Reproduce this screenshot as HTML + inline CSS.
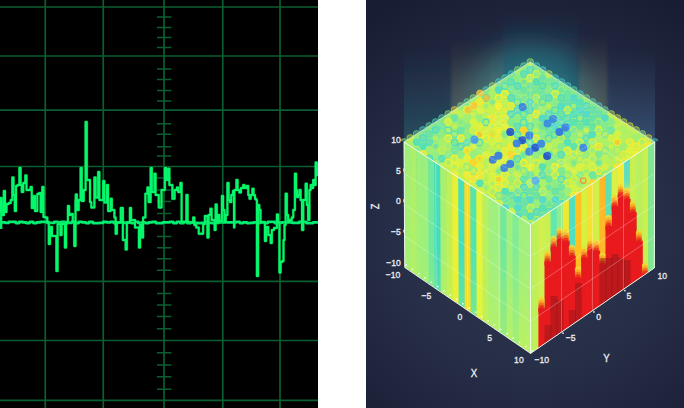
<!DOCTYPE html>
<html><head><meta charset="utf-8"><title>scope</title>
<style>html,body{margin:0;padding:0;background:#fff}body{width:684px;height:408px;position:relative;overflow:hidden;font-family:"Liberation Sans",sans-serif}</style>
</head><body>
<svg width="318" height="408" viewBox="0 0 318 408" style="position:absolute;left:0;top:0"><rect x="0" y="0" width="318" height="408" fill="#000"/><path d="M45.25 0V408M103.25 0V408M164 0V408M222.75 0V408M280 0V408M0 7H318M0 56H318M0 110.2H318M0 166.5H318M0 281.4H318M0 340.5H318M0 400.3H318M157 17H171.3M157 27.5H171.3M157 37.5H171.3M157 47.5H171.3M157 69H171.3M157 79.5H171.3M157 90.5H171.3M157 101H171.3M157 123.75H171.3M157 134.25H171.3M157 146.75H171.3M157 156H171.3M157 178H171.3M157 190H171.3M157 201.5H171.3M157 213.5H171.3M157 236.5H171.3M157 247.75H171.3M157 258.75H171.3M157 270.25H171.3M157 293.5H171.3M157 305H171.3M157 316.5H171.3M157 328.75H171.3M157 352.75H171.3M157 365H171.3M157 376.75H171.3M157 389.25H171.3" stroke="#0b5e32" stroke-width="1.7" fill="none"/><path d="M0 222.4H1.75V222.4H5.25V222.9H8.75V221.8H12.25V221.8H15.75V223.1H19.25V221.8H22.75V222.4H26.25V223.1H29.75V221.8H33.25V223.1H36.75V222.4H40.25V221.8H43.75V221.8H47.25V222.9H50.75V222.9H54.25V221.8H57.75V222.4H61.25V221.8H64.75V223.1H68.25V222.9H71.75V221.8H75.25V223.1H78.75V221.8H82.25V222.4H85.75V223.1H89.25V221.8H92.75V223.1H96.25V223.1H99.75V222.9H103.25V221.8H106.75V222.4H110.25V221.8H113.75V223.1H117.25V222.4H120.75V222.4H124.25V222.9H127.75V222.4H131.25V223.1H134.75V221.8H138.25V223.1H141.75V222.4H145.25V223.1H148.75V222.4H152.25V221.8H155.75V223.1H159.25V223.1H162.75V222.4H166.25V222.4H169.75V221.8H173.25V223.1H176.75V221.8H180.25V223.1H183.75V221.8H187.25V223.1H190.75V222.4H194.25V222.9H197.75V223.1H201.25V222.9H204.75V222.4H208.25V222.9H211.75V223.1H215.25V222.9H218.75V222.4H222.25V222.4H225.75V222.4H229.25V222.4H232.75V222.4H236.25V221.8H239.75V223.1H243.25V222.4H246.75V223.1H250.25V222.9H253.75V222.4H257.25V222.9H260.75V222.4H264.25V223.1H267.75V221.8H271.25V221.8H274.75V223.1H278.25V222.9H281.75V222.4H285.25V222.4H288.75V222.4H292.25V222.9H295.75V222.9H299.25V221.8H302.75V221.8H306.25V223.1H309.75V223.1H313.25V222.4H316.50V222.4H318M1 198V229M3.5 204V216" stroke="#02f072" stroke-width="2.7" fill="none" stroke-linejoin="round"/><path d="M0 212H0.40V198H1.60V215H3.80V191H5.00V212H6.50V204H8.75V203H10.75V200H12.30V177.5H13.50V195H14.80V211H16.05V186H17.50V185H19.40V168H20.60V185H21.75V192H23.25V183H25.30V175.5H26.50V190H28.00V190H30.60V187H31.80V208H33.80V196H35.00V211H37.25V194H39.00V193H40.65V212H42.30V187H43.50V217H45.25V217.5H47.25V222H48.80V244H50.00V227H52.00V236H54.00V236H56.40V271H57.60V224H60.40V235H61.60V224H64.90V247.5H66.10V222H67.90V206H69.10V215H71.00V214H72.75V222H74.25V246H75.50V200H75.75V194.5H76.90V210H78.75V200H80.60V168H81.80V201H83.75V190H85.60V122H86.80V180H88.50V180H90.00V202H91.25V207.5H94.40V177.5H95.60V197.5H98.15V172H99.35V200H103.15V181H104.35V202.5H106.90V185H108.10V211H110.65V198.75H111.85V210H114.38V217.5H115.65V233.75H116.85V222.5H120.75V208H122.88V240H125.65V249.5H126.85V222.5H129.90V208H131.10V220H135.00V227.5H138.90V247.5H140.10V225H141.90V237.5H143.10V217.5H145.38V193.75H147.40V187.5H148.60V202H150.65V168H151.85V192H154.40V173.75H155.60V195H158.75V207.5H161.50V190H164.90V168H166.10V180H168.15V168.75H169.35V185H172.38V198.75H174.62V190H176.90V187.5H178.10V192H180.40V183H181.60V222H184.00V222H186.40V195H187.60V222H189.25V222.5H193.15V217.5H194.35V225H196.25V227.5H198.75V233.75H201.25V233.75H203.12V224H204.88V216H207.40V237.5H208.60V215H210.40V208.75H211.60V220H214.62V230H215.60V204.5H216.80V222H218.15V215H219.35V221H221.90V196H223.10V210H224.50V222H225.75V215H227.40V183H228.60V200H230.00V202H231.25V195H232.90V191H234.03V227.5H234.38V190H236.40V180H237.60V190H239.25V192.5H241.00V188H243.15V185H244.35V188H246.50V186H248.25V195H249.50V198.75H250.75V195H252.40V188.75H253.60V195H255.00V199H256.25V200H256.90V276H258.10V205H259.25V210H260.50V222H262.00V222H264.90V241H266.10V227H268.25V235H270.65V243H271.85V230H274.00V228H276.90V214.5H278.10V222H279.40V272.5H280.60V262H282.25V261H283.50V240H284.50V225H285.65V193.75H286.85V215H288.12V222H289.88V220H291.75V217.5H293.25V210H294.90V173.75H296.10V190H297.00V197H298.25V195H299.40V190H300.60V200H302.00V230H303.25V200H305.65V183.75H306.85V205H308.12V220H309.38V190H310.65V185H311.85V188H313.15V180H314.35V185H315.65V162.5H316.85V175H317.75V170H318" stroke="#00c040" stroke-width="2.8" fill="none" stroke-linejoin="round" stroke-linecap="round" stroke-opacity="0.55"/><path d="M0 212H0.40V198H1.60V215H3.80V191H5.00V212H6.50V204H8.75V203H10.75V200H12.30V177.5H13.50V195H14.80V211H16.05V186H17.50V185H19.40V168H20.60V185H21.75V192H23.25V183H25.30V175.5H26.50V190H28.00V190H30.60V187H31.80V208H33.80V196H35.00V211H37.25V194H39.00V193H40.65V212H42.30V187H43.50V217H45.25V217.5H47.25V222H48.80V244H50.00V227H52.00V236H54.00V236H56.40V271H57.60V224H60.40V235H61.60V224H64.90V247.5H66.10V222H67.90V206H69.10V215H71.00V214H72.75V222H74.25V246H75.50V200H75.75V194.5H76.90V210H78.75V200H80.60V168H81.80V201H83.75V190H85.60V122H86.80V180H88.50V180H90.00V202H91.25V207.5H94.40V177.5H95.60V197.5H98.15V172H99.35V200H103.15V181H104.35V202.5H106.90V185H108.10V211H110.65V198.75H111.85V210H114.38V217.5H115.65V233.75H116.85V222.5H120.75V208H122.88V240H125.65V249.5H126.85V222.5H129.90V208H131.10V220H135.00V227.5H138.90V247.5H140.10V225H141.90V237.5H143.10V217.5H145.38V193.75H147.40V187.5H148.60V202H150.65V168H151.85V192H154.40V173.75H155.60V195H158.75V207.5H161.50V190H164.90V168H166.10V180H168.15V168.75H169.35V185H172.38V198.75H174.62V190H176.90V187.5H178.10V192H180.40V183H181.60V222H184.00V222H186.40V195H187.60V222H189.25V222.5H193.15V217.5H194.35V225H196.25V227.5H198.75V233.75H201.25V233.75H203.12V224H204.88V216H207.40V237.5H208.60V215H210.40V208.75H211.60V220H214.62V230H215.60V204.5H216.80V222H218.15V215H219.35V221H221.90V196H223.10V210H224.50V222H225.75V215H227.40V183H228.60V200H230.00V202H231.25V195H232.90V191H234.03V227.5H234.38V190H236.40V180H237.60V190H239.25V192.5H241.00V188H243.15V185H244.35V188H246.50V186H248.25V195H249.50V198.75H250.75V195H252.40V188.75H253.60V195H255.00V199H256.25V200H256.90V276H258.10V205H259.25V210H260.50V222H262.00V222H264.90V241H266.10V227H268.25V235H270.65V243H271.85V230H274.00V228H276.90V214.5H278.10V222H279.40V272.5H280.60V262H282.25V261H283.50V240H284.50V225H285.65V193.75H286.85V215H288.12V222H289.88V220H291.75V217.5H293.25V210H294.90V173.75H296.10V190H297.00V197H298.25V195H299.40V190H300.60V200H302.00V230H303.25V200H305.65V183.75H306.85V205H308.12V220H309.38V190H310.65V185H311.85V188H313.15V180H314.35V185H315.65V162.5H316.85V175H317.75V170H318" stroke="#06f66c" stroke-width="2" fill="none" stroke-linejoin="round" stroke-linecap="round"/></svg>
<svg width="318" height="408" viewBox="0 0 318 408" style="position:absolute;left:366px;top:0"><defs>
<radialGradient id="bg" gradientUnits="userSpaceOnUse" cx="165" cy="235" r="270"><stop offset="0" stop-color="#2f3853"/><stop offset="0.5" stop-color="#272e47"/><stop offset="1" stop-color="#181d33"/></radialGradient>
<linearGradient id="gt" x1="0" y1="1" x2="0" y2="0"><stop offset="0" stop-color="#2a8a8c" stop-opacity="0.58"/><stop offset="0.5" stop-color="#268088" stop-opacity="0.26"/><stop offset="1" stop-color="#237080" stop-opacity="0"/></linearGradient>
<linearGradient id="gy" x1="0" y1="1" x2="0" y2="0"><stop offset="0" stop-color="#b0ac80" stop-opacity="0.55"/><stop offset="0.6" stop-color="#a09c70" stop-opacity="0.26"/><stop offset="1" stop-color="#908860" stop-opacity="0"/></linearGradient>
<linearGradient id="gb" x1="0" y1="1" x2="0" y2="0"><stop offset="0" stop-color="#4878a8" stop-opacity="0.58"/><stop offset="0.6" stop-color="#406890" stop-opacity="0.24"/><stop offset="1" stop-color="#406088" stop-opacity="0"/></linearGradient>
<linearGradient id="lt" x1="0" y1="0" x2="0" y2="1"><stop offset="0" stop-color="#70e8a0" stop-opacity="0.12"/><stop offset="0.5" stop-color="#c8f050" stop-opacity="0"/><stop offset="1" stop-color="#d8f440" stop-opacity="0.45"/></linearGradient><linearGradient id="ct" x1="0" y1="0" x2="0" y2="1"><stop offset="0" stop-color="#54dcc8" stop-opacity="0.95"/><stop offset="0.7" stop-color="#54dcc8" stop-opacity="0.8"/><stop offset="1" stop-color="#54dcc8" stop-opacity="0"/></linearGradient><filter id="bl" x="-10%" y="-10%" width="120%" height="120%"><feGaussianBlur stdDeviation="1.6 3"/></filter>
<filter id="bl2" x="-60%" y="-60%" width="220%" height="220%"><feGaussianBlur stdDeviation="14"/></filter>
</defs><rect width="318" height="408" fill="url(#bg)"/><clipPath id="gc"><rect x="38" y="0" width="251" height="170"/></clipPath><g clip-path="url(#gc)"><ellipse cx="164" cy="100" rx="60" ry="55" fill="#2a8a98" fill-opacity="0.6" filter="url(#bl2)"/><g filter="url(#bl)"><rect x="34" y="48" width="52" height="112" fill="url(#gt)" opacity="0.8"/><rect x="85.5" y="40" width="40" height="120" fill="url(#gy)" opacity="0.95"/><rect x="85.5" y="60" width="40" height="100" fill="url(#gt)" opacity="0.45"/><rect x="125" y="38" width="12" height="122" fill="url(#gy)" opacity="1"/><rect x="137" y="12" width="75" height="148" fill="url(#gt)" opacity="1"/><rect x="137" y="40" width="66" height="120" fill="url(#gt)" opacity="0.6"/><rect x="213" y="36" width="28" height="124" fill="url(#gy)" opacity="1"/><rect x="213" y="60" width="28" height="100" fill="url(#gt)" opacity="0.3"/><rect x="241" y="50" width="55" height="110" fill="url(#gb)"/></g></g><polygon points="38.00,142.00 44.72,145.93 45.44,271.59 38.75,267.50" fill="#a4f074"/><polygon points="44.02,145.93 50.75,149.86 51.44,275.68 44.74,271.59" fill="#b0f068"/><polygon points="50.05,149.86 56.77,153.79 57.43,279.77 50.74,275.68" fill="#a0f078"/><polygon points="56.07,153.79 62.80,157.71 63.42,283.86 56.73,279.77" fill="#9cf07c"/><polygon points="62.10,157.71 68.82,161.64 69.41,287.95 62.72,283.86" fill="#70e8a0"/><polygon points="68.12,161.64 74.84,165.57 75.41,292.04 68.71,287.95" fill="#40dcc0"/><polygon points="74.14,165.57 80.87,169.50 81.40,296.13 74.71,292.04" fill="#a8f070"/><polygon points="80.17,169.50 86.89,173.43 87.39,300.22 80.70,296.13" fill="#c0f058"/><polygon points="86.19,173.43 92.91,177.36 93.39,304.31 86.69,300.22" fill="#f0f030"/><polygon points="92.21,177.36 98.94,181.29 99.38,308.40 92.69,304.31" fill="#40e0c0"/><polygon points="98.24,181.29 104.96,185.21 105.37,312.50 98.68,308.40" fill="#ffd820"/><polygon points="104.26,185.21 110.99,189.14 111.36,316.59 104.67,312.50" fill="#50e4b0"/><polygon points="110.29,189.14 117.01,193.07 117.36,320.68 110.66,316.59" fill="#e8f438"/><polygon points="116.31,193.07 123.03,197.00 123.35,324.77 116.66,320.68" fill="#b8f060"/><polygon points="122.33,197.00 129.06,200.93 129.34,328.86 122.65,324.77" fill="#a0f080"/><polygon points="128.36,200.93 135.08,204.86 135.34,332.95 128.64,328.86" fill="#a0f080"/><polygon points="134.38,204.86 141.10,208.79 141.33,337.04 134.64,332.95" fill="#70e8a0"/><polygon points="140.40,208.79 147.13,212.71 147.32,341.13 140.63,337.04" fill="#a0f080"/><polygon points="146.43,212.71 153.15,216.64 153.31,345.22 146.62,341.13" fill="#80ec98"/><polygon points="152.45,216.64 159.18,220.57 159.31,349.31 152.61,345.22" fill="#a0f080"/><polygon points="158.48,220.57 165.20,224.50 165.30,353.40 158.61,349.31" fill="#a4f07c"/><polygon points="38,142 164.5,224.5 164.60000000000002,353.4 38.75,267.5" fill="url(#lt)"/><polygon points="164.50,224.50 167.00,222.84 167.00,351.74 164.50,353.47" fill="#a8f070"/><polygon points="166.30,223.30 173.10,218.79 173.10,347.53 166.30,352.23" fill="#c0f058"/><polygon points="172.40,219.25 179.20,214.74 179.20,343.32 172.40,348.02" fill="#d0f050"/><polygon points="178.50,215.20 185.30,210.69 185.30,339.11 178.50,343.80" fill="#c8f050"/><polygon points="184.60,211.15 191.40,206.64 191.40,334.90 184.60,339.59" fill="#60e8b0"/><polygon points="190.70,207.10 197.50,202.59 197.50,330.69 190.70,335.38" fill="#90ec90"/><polygon points="196.80,203.05 203.60,198.54 203.60,326.48 196.80,331.17" fill="#f0e830"/><polygon points="202.90,199.00 209.70,194.49 209.70,322.26 202.90,326.96" fill="#50e0c0"/><polygon points="209.00,194.95 215.80,190.44 215.80,318.05 209.00,322.75" fill="#ffc020"/><polygon points="215.10,190.90 221.90,186.39 221.90,313.84 215.10,318.54" fill="#d8f040"/><polygon points="221.20,186.85 228.00,182.34 228.00,309.63 221.20,314.32" fill="#f8e030"/><polygon points="227.30,182.80 234.10,178.29 234.10,305.42 227.30,310.11" fill="#d0f048"/><polygon points="233.40,178.75 240.20,174.24 240.20,301.21 233.40,305.90" fill="#ffb828"/><polygon points="239.50,174.70 246.30,170.19 246.30,297.00 239.50,301.69" fill="#60e0b0"/><polygon points="245.60,170.65 252.40,166.14 252.40,292.78 245.60,297.48" fill="#d8f048"/><polygon points="251.70,166.60 258.50,162.09 258.50,288.57 251.70,293.27" fill="#f0ec38"/><polygon points="257.80,162.55 264.60,158.04 264.60,284.36 257.80,289.06" fill="#a0ec80"/><polygon points="257.80,162.55 264.60,158.04 264.60,186.04 257.80,190.55" fill="url(#ct)"/><polygon points="263.90,158.50 270.70,153.98 270.70,280.15 263.90,284.85" fill="#c8f050"/><polygon points="270.00,154.45 276.80,149.93 276.80,275.94 270.00,280.63" fill="#b8f060"/><polygon points="276.10,150.40 282.90,145.88 282.90,271.73 276.10,276.42" fill="#c8f050"/><polygon points="282.20,146.35 288.75,142.00 288.75,267.69 282.20,272.21" fill="#80e890"/><clipPath id="rc"><polygon points="164.5,224.5 288.75,142 288.29999999999995,268 164.60000000000002,353.4"/></clipPath><g clip-path="url(#rc)"><polygon points="172.40,308.00 179.20,308.00 179.20,343.32 172.40,348.02" fill="#e81a1e"/><polygon points="178.50,261.60 185.30,261.60 185.30,339.11 178.50,343.80" fill="#e81a1e"/><polygon points="184.60,246.70 191.40,246.70 191.40,334.90 184.60,339.59" fill="#e81a1e"/><polygon points="190.70,238.80 197.50,238.80 197.50,330.69 190.70,335.38" fill="#e81a1e"/><polygon points="196.80,240.80 203.60,240.80 203.60,326.48 196.80,331.17" fill="#e81a1e"/><polygon points="202.90,255.70 209.70,255.70 209.70,322.26 202.90,326.96" fill="#e81a1e"/><polygon points="209.00,277.50 215.80,277.50 215.80,318.05 209.00,322.75" fill="#e81a1e"/><polygon points="215.10,257.70 221.90,257.70 221.90,313.84 215.10,318.54" fill="#e81a1e"/><polygon points="221.20,249.70 228.00,249.70 228.00,309.63 221.20,314.32" fill="#e81a1e"/><polygon points="227.30,250.70 234.10,250.70 234.10,305.42 227.30,310.11" fill="#e81a1e"/><polygon points="233.40,263.60 240.20,263.60 240.20,301.21 233.40,305.90" fill="#e81a1e"/><polygon points="239.50,225.90 246.30,225.90 246.30,297.00 239.50,301.69" fill="#e81a1e"/><polygon points="245.60,206.00 252.40,206.00 252.40,292.78 245.60,297.48" fill="#e81a1e"/><polygon points="251.70,195.00 258.50,195.00 258.50,288.57 251.70,293.27" fill="#e81a1e"/><polygon points="257.80,198.70 264.60,198.70 264.60,284.36 257.80,289.06" fill="#e81a1e"/><polygon points="263.90,212.00 270.70,212.00 270.70,280.15 263.90,284.85" fill="#e81a1e"/><polygon points="270.00,240.80 276.80,240.80 276.80,275.94 270.00,280.63" fill="#e81a1e"/><polygon points="276.10,273.60 282.90,273.60 282.90,271.73 276.10,276.42" fill="#e81a1e"/><circle cx="175.4" cy="300.0" r="2.8" fill="#f4d838" fill-opacity="0.9" stroke="#f4d838" stroke-width="0.6"/><circle cx="175.4" cy="302.6" r="2.8" fill="#f8b028" fill-opacity="0.95" stroke="#f8b028" stroke-width="0.6"/><circle cx="175.4" cy="305.2" r="2.8" fill="#f47820" fill-opacity="1" stroke="#f47820" stroke-width="0.6"/><circle cx="175.4" cy="307.8" r="2.8" fill="#ec3c1c" fill-opacity="1" stroke="#ec3c1c" stroke-width="0.6"/><circle cx="175.4" cy="310.4" r="2.8" fill="#e81a1e" fill-opacity="1" stroke="#e81a1e" stroke-width="0.6"/><circle cx="181.5" cy="253.6" r="2.8" fill="#f4d838" fill-opacity="0.9" stroke="#f4d838" stroke-width="0.6"/><circle cx="181.5" cy="256.2" r="2.8" fill="#f8b028" fill-opacity="0.95" stroke="#f8b028" stroke-width="0.6"/><circle cx="181.5" cy="258.8" r="2.8" fill="#f47820" fill-opacity="1" stroke="#f47820" stroke-width="0.6"/><circle cx="181.5" cy="261.4" r="2.8" fill="#ec3c1c" fill-opacity="1" stroke="#ec3c1c" stroke-width="0.6"/><circle cx="181.5" cy="264.0" r="2.8" fill="#e81a1e" fill-opacity="1" stroke="#e81a1e" stroke-width="0.6"/><polygon points="178.50,325.00 185.30,325.00 185.30,339.11 178.50,343.80" fill="#5a1418" fill-opacity="0.3"/><circle cx="187.6" cy="238.7" r="2.8" fill="#f4d838" fill-opacity="0.9" stroke="#f4d838" stroke-width="0.6"/><circle cx="187.6" cy="241.3" r="2.8" fill="#f8b028" fill-opacity="0.95" stroke="#f8b028" stroke-width="0.6"/><circle cx="187.6" cy="243.9" r="2.8" fill="#f47820" fill-opacity="1" stroke="#f47820" stroke-width="0.6"/><circle cx="187.6" cy="246.5" r="2.8" fill="#ec3c1c" fill-opacity="1" stroke="#ec3c1c" stroke-width="0.6"/><circle cx="187.6" cy="249.1" r="2.8" fill="#e81a1e" fill-opacity="1" stroke="#e81a1e" stroke-width="0.6"/><polygon points="184.60,296.00 191.40,296.00 191.40,334.90 184.60,339.59" fill="#5a1418" fill-opacity="0.3"/><circle cx="193.7" cy="230.8" r="2.8" fill="#f4d838" fill-opacity="0.9" stroke="#f4d838" stroke-width="0.6"/><circle cx="193.7" cy="233.4" r="2.8" fill="#f8b028" fill-opacity="0.95" stroke="#f8b028" stroke-width="0.6"/><circle cx="193.7" cy="236.0" r="2.8" fill="#f47820" fill-opacity="1" stroke="#f47820" stroke-width="0.6"/><circle cx="193.7" cy="238.6" r="2.8" fill="#ec3c1c" fill-opacity="1" stroke="#ec3c1c" stroke-width="0.6"/><circle cx="193.7" cy="241.2" r="2.8" fill="#e81a1e" fill-opacity="1" stroke="#e81a1e" stroke-width="0.6"/><polygon points="190.70,300.00 197.50,300.00 197.50,330.69 190.70,335.38" fill="#5a1418" fill-opacity="0.3"/><circle cx="199.8" cy="232.8" r="2.8" fill="#f4d838" fill-opacity="0.9" stroke="#f4d838" stroke-width="0.6"/><circle cx="199.8" cy="235.4" r="2.8" fill="#f8b028" fill-opacity="0.95" stroke="#f8b028" stroke-width="0.6"/><circle cx="199.8" cy="238.0" r="2.8" fill="#f47820" fill-opacity="1" stroke="#f47820" stroke-width="0.6"/><circle cx="199.8" cy="240.6" r="2.8" fill="#ec3c1c" fill-opacity="1" stroke="#ec3c1c" stroke-width="0.6"/><circle cx="199.8" cy="243.2" r="2.8" fill="#e81a1e" fill-opacity="1" stroke="#e81a1e" stroke-width="0.6"/><circle cx="205.9" cy="247.7" r="2.8" fill="#f4d838" fill-opacity="0.9" stroke="#f4d838" stroke-width="0.6"/><circle cx="205.9" cy="250.3" r="2.8" fill="#f8b028" fill-opacity="0.95" stroke="#f8b028" stroke-width="0.6"/><circle cx="205.9" cy="252.9" r="2.8" fill="#f47820" fill-opacity="1" stroke="#f47820" stroke-width="0.6"/><circle cx="205.9" cy="255.5" r="2.8" fill="#ec3c1c" fill-opacity="1" stroke="#ec3c1c" stroke-width="0.6"/><circle cx="205.9" cy="258.1" r="2.8" fill="#e81a1e" fill-opacity="1" stroke="#e81a1e" stroke-width="0.6"/><polygon points="202.90,310.00 209.70,310.00 209.70,322.26 202.90,326.96" fill="#5a1418" fill-opacity="0.3"/><circle cx="212.0" cy="269.5" r="2.8" fill="#f4d838" fill-opacity="0.9" stroke="#f4d838" stroke-width="0.6"/><circle cx="212.0" cy="272.1" r="2.8" fill="#f8b028" fill-opacity="0.95" stroke="#f8b028" stroke-width="0.6"/><circle cx="212.0" cy="274.7" r="2.8" fill="#f47820" fill-opacity="1" stroke="#f47820" stroke-width="0.6"/><circle cx="212.0" cy="277.3" r="2.8" fill="#ec3c1c" fill-opacity="1" stroke="#ec3c1c" stroke-width="0.6"/><circle cx="212.0" cy="279.9" r="2.8" fill="#e81a1e" fill-opacity="1" stroke="#e81a1e" stroke-width="0.6"/><polygon points="209.00,283.00 215.80,283.00 215.80,318.05 209.00,322.75" fill="#5a1418" fill-opacity="0.3"/><circle cx="218.1" cy="249.7" r="2.8" fill="#f4d838" fill-opacity="0.9" stroke="#f4d838" stroke-width="0.6"/><circle cx="218.1" cy="252.3" r="2.8" fill="#f8b028" fill-opacity="0.95" stroke="#f8b028" stroke-width="0.6"/><circle cx="218.1" cy="254.9" r="2.8" fill="#f47820" fill-opacity="1" stroke="#f47820" stroke-width="0.6"/><circle cx="218.1" cy="257.5" r="2.8" fill="#ec3c1c" fill-opacity="1" stroke="#ec3c1c" stroke-width="0.6"/><circle cx="218.1" cy="260.1" r="2.8" fill="#e81a1e" fill-opacity="1" stroke="#e81a1e" stroke-width="0.6"/><circle cx="224.2" cy="241.7" r="2.8" fill="#f4d838" fill-opacity="0.9" stroke="#f4d838" stroke-width="0.6"/><circle cx="224.2" cy="244.3" r="2.8" fill="#f8b028" fill-opacity="0.95" stroke="#f8b028" stroke-width="0.6"/><circle cx="224.2" cy="246.9" r="2.8" fill="#f47820" fill-opacity="1" stroke="#f47820" stroke-width="0.6"/><circle cx="224.2" cy="249.5" r="2.8" fill="#ec3c1c" fill-opacity="1" stroke="#ec3c1c" stroke-width="0.6"/><circle cx="224.2" cy="252.1" r="2.8" fill="#e81a1e" fill-opacity="1" stroke="#e81a1e" stroke-width="0.6"/><circle cx="230.3" cy="242.7" r="2.8" fill="#f4d838" fill-opacity="0.9" stroke="#f4d838" stroke-width="0.6"/><circle cx="230.3" cy="245.3" r="2.8" fill="#f8b028" fill-opacity="0.95" stroke="#f8b028" stroke-width="0.6"/><circle cx="230.3" cy="247.9" r="2.8" fill="#f47820" fill-opacity="1" stroke="#f47820" stroke-width="0.6"/><circle cx="230.3" cy="250.5" r="2.8" fill="#ec3c1c" fill-opacity="1" stroke="#ec3c1c" stroke-width="0.6"/><circle cx="230.3" cy="253.1" r="2.8" fill="#e81a1e" fill-opacity="1" stroke="#e81a1e" stroke-width="0.6"/><circle cx="236.4" cy="255.6" r="2.8" fill="#f4d838" fill-opacity="0.9" stroke="#f4d838" stroke-width="0.6"/><circle cx="236.4" cy="258.2" r="2.8" fill="#f8b028" fill-opacity="0.95" stroke="#f8b028" stroke-width="0.6"/><circle cx="236.4" cy="260.8" r="2.8" fill="#f47820" fill-opacity="1" stroke="#f47820" stroke-width="0.6"/><circle cx="236.4" cy="263.4" r="2.8" fill="#ec3c1c" fill-opacity="1" stroke="#ec3c1c" stroke-width="0.6"/><circle cx="236.4" cy="266.0" r="2.8" fill="#e81a1e" fill-opacity="1" stroke="#e81a1e" stroke-width="0.6"/><polygon points="233.40,258.00 240.20,258.00 240.20,301.21 233.40,305.90" fill="#5a1418" fill-opacity="0.3"/><circle cx="242.5" cy="217.9" r="2.8" fill="#f4d838" fill-opacity="0.9" stroke="#f4d838" stroke-width="0.6"/><circle cx="242.5" cy="220.5" r="2.8" fill="#f8b028" fill-opacity="0.95" stroke="#f8b028" stroke-width="0.6"/><circle cx="242.5" cy="223.1" r="2.8" fill="#f47820" fill-opacity="1" stroke="#f47820" stroke-width="0.6"/><circle cx="242.5" cy="225.7" r="2.8" fill="#ec3c1c" fill-opacity="1" stroke="#ec3c1c" stroke-width="0.6"/><circle cx="242.5" cy="228.3" r="2.8" fill="#e81a1e" fill-opacity="1" stroke="#e81a1e" stroke-width="0.6"/><polygon points="239.50,258.00 246.30,258.00 246.30,297.00 239.50,301.69" fill="#5a1418" fill-opacity="0.3"/><circle cx="248.6" cy="198.0" r="2.8" fill="#f4d838" fill-opacity="0.9" stroke="#f4d838" stroke-width="0.6"/><circle cx="248.6" cy="200.6" r="2.8" fill="#f8b028" fill-opacity="0.95" stroke="#f8b028" stroke-width="0.6"/><circle cx="248.6" cy="203.2" r="2.8" fill="#f47820" fill-opacity="1" stroke="#f47820" stroke-width="0.6"/><circle cx="248.6" cy="205.8" r="2.8" fill="#ec3c1c" fill-opacity="1" stroke="#ec3c1c" stroke-width="0.6"/><circle cx="248.6" cy="208.4" r="2.8" fill="#e81a1e" fill-opacity="1" stroke="#e81a1e" stroke-width="0.6"/><polygon points="245.60,254.00 252.40,254.00 252.40,292.78 245.60,297.48" fill="#5a1418" fill-opacity="0.3"/><circle cx="254.7" cy="187.0" r="2.8" fill="#f4d838" fill-opacity="0.9" stroke="#f4d838" stroke-width="0.6"/><circle cx="254.7" cy="189.6" r="2.8" fill="#f8b028" fill-opacity="0.95" stroke="#f8b028" stroke-width="0.6"/><circle cx="254.7" cy="192.2" r="2.8" fill="#f47820" fill-opacity="1" stroke="#f47820" stroke-width="0.6"/><circle cx="254.7" cy="194.8" r="2.8" fill="#ec3c1c" fill-opacity="1" stroke="#ec3c1c" stroke-width="0.6"/><circle cx="254.7" cy="197.4" r="2.8" fill="#e81a1e" fill-opacity="1" stroke="#e81a1e" stroke-width="0.6"/><polygon points="251.70,258.00 258.50,258.00 258.50,288.57 251.70,293.27" fill="#5a1418" fill-opacity="0.3"/><circle cx="260.8" cy="190.7" r="2.8" fill="#f4d838" fill-opacity="0.9" stroke="#f4d838" stroke-width="0.6"/><circle cx="260.8" cy="193.3" r="2.8" fill="#f8b028" fill-opacity="0.95" stroke="#f8b028" stroke-width="0.6"/><circle cx="260.8" cy="195.9" r="2.8" fill="#f47820" fill-opacity="1" stroke="#f47820" stroke-width="0.6"/><circle cx="260.8" cy="198.5" r="2.8" fill="#ec3c1c" fill-opacity="1" stroke="#ec3c1c" stroke-width="0.6"/><circle cx="260.8" cy="201.1" r="2.8" fill="#e81a1e" fill-opacity="1" stroke="#e81a1e" stroke-width="0.6"/><polygon points="257.80,260.00 264.60,260.00 264.60,284.36 257.80,289.06" fill="#5a1418" fill-opacity="0.3"/><circle cx="266.9" cy="204.0" r="2.8" fill="#f4d838" fill-opacity="0.9" stroke="#f4d838" stroke-width="0.6"/><circle cx="266.9" cy="206.6" r="2.8" fill="#f8b028" fill-opacity="0.95" stroke="#f8b028" stroke-width="0.6"/><circle cx="266.9" cy="209.2" r="2.8" fill="#f47820" fill-opacity="1" stroke="#f47820" stroke-width="0.6"/><circle cx="266.9" cy="211.8" r="2.8" fill="#ec3c1c" fill-opacity="1" stroke="#ec3c1c" stroke-width="0.6"/><circle cx="266.9" cy="214.4" r="2.8" fill="#e81a1e" fill-opacity="1" stroke="#e81a1e" stroke-width="0.6"/><circle cx="273.0" cy="232.8" r="2.8" fill="#f4d838" fill-opacity="0.9" stroke="#f4d838" stroke-width="0.6"/><circle cx="273.0" cy="235.4" r="2.8" fill="#f8b028" fill-opacity="0.95" stroke="#f8b028" stroke-width="0.6"/><circle cx="273.0" cy="238.0" r="2.8" fill="#f47820" fill-opacity="1" stroke="#f47820" stroke-width="0.6"/><circle cx="273.0" cy="240.6" r="2.8" fill="#ec3c1c" fill-opacity="1" stroke="#ec3c1c" stroke-width="0.6"/><circle cx="273.0" cy="243.2" r="2.8" fill="#e81a1e" fill-opacity="1" stroke="#e81a1e" stroke-width="0.6"/><circle cx="279.1" cy="265.6" r="2.8" fill="#f4d838" fill-opacity="0.9" stroke="#f4d838" stroke-width="0.6"/><circle cx="279.1" cy="268.2" r="2.8" fill="#f8b028" fill-opacity="0.95" stroke="#f8b028" stroke-width="0.6"/><circle cx="279.1" cy="270.8" r="2.8" fill="#f47820" fill-opacity="1" stroke="#f47820" stroke-width="0.6"/><circle cx="279.1" cy="273.4" r="2.8" fill="#ec3c1c" fill-opacity="1" stroke="#ec3c1c" stroke-width="0.6"/><circle cx="279.1" cy="276.0" r="2.8" fill="#e81a1e" fill-opacity="1" stroke="#e81a1e" stroke-width="0.6"/></g><path d="M38.2 173.4L164.5 256.7L288.6 173.5M69.6 162.6L70.2 289.0M195.6 203.9L195.5 332.0M38.4 204.8L164.6 288.9L288.5 205.0M101.2 183.2L101.7 310.4M226.6 183.2L226.4 310.7M38.6 236.1L164.6 321.2L288.4 236.5M132.9 203.9L133.1 331.9M257.7 162.6L257.4 289.4" stroke="#fff" stroke-opacity="0.4" stroke-width="0.7" fill="none"/><clipPath id="tc"><polygon points="38,142 164.5,224.5 288.75,142 296.75,139 164.25,53 30,139"/></clipPath><polygon points="38,142 164.5,224.5 288.75,142 164.25,62" fill="#b4ee68"/><g clip-path="url(#tc)"><circle cx="164.2" cy="62.0" r="3.4" fill="#abf069" fill-opacity="0.4" stroke="#abf069" stroke-opacity="0.6" stroke-width="0.9"/><circle cx="157.9" cy="66.0" r="3.4" fill="#76e798" fill-opacity="0.4" stroke="#76e798" stroke-opacity="0.6" stroke-width="0.9"/><circle cx="170.5" cy="66.0" r="3.4" fill="#52dcc1" fill-opacity="0.4" stroke="#52dcc1" stroke-opacity="0.6" stroke-width="0.9"/><circle cx="151.6" cy="70.0" r="3.4" fill="#96ee7e" fill-opacity="0.4" stroke="#96ee7e" stroke-opacity="0.6" stroke-width="0.9"/><circle cx="176.7" cy="70.0" r="3.4" fill="#52dcc1" fill-opacity="0.4" stroke="#52dcc1" stroke-opacity="0.6" stroke-width="0.9"/><circle cx="164.2" cy="70.0" r="3.3" fill="#50d9cd" fill-opacity="0.7" stroke="#52ddbf" stroke-width="1.4"/><circle cx="145.3" cy="74.0" r="3.4" fill="#50d9cd" fill-opacity="0.4" stroke="#50d9cd" stroke-opacity="0.6" stroke-width="0.9"/><circle cx="182.9" cy="74.0" r="3.4" fill="#c4f150" fill-opacity="0.4" stroke="#c4f150" stroke-opacity="0.6" stroke-width="0.9"/><circle cx="157.9" cy="74.0" r="3.3" fill="#50d9cd" fill-opacity="0.7" stroke="#54e0b4" stroke-width="1.4"/><circle cx="170.4" cy="74.0" r="3.3" fill="#88eb89" fill-opacity="0.7" stroke="#bcf158" stroke-width="1.4"/><circle cx="139.0" cy="78.0" r="3.4" fill="#53dfb9" fill-opacity="0.4" stroke="#53dfb9" stroke-opacity="0.6" stroke-width="0.9"/><circle cx="189.2" cy="78.0" r="3.4" fill="#50d9cd" fill-opacity="0.4" stroke="#50d9cd" stroke-opacity="0.6" stroke-width="0.9"/><circle cx="151.6" cy="78.0" r="3.9" fill="#8bec87" fill-opacity="0.95"/><circle cx="176.6" cy="78.0" r="3.3" fill="#51dbc6" fill-opacity="0.7" stroke="#78e897" stroke-width="1.4"/><circle cx="164.1" cy="78.0" r="3.3" fill="#9eef76" fill-opacity="0.7" stroke="#dcf13f" stroke-width="1.4"/><circle cx="132.7" cy="82.0" r="3.4" fill="#50d9cd" fill-opacity="0.4" stroke="#50d9cd" stroke-opacity="0.6" stroke-width="0.9"/><circle cx="195.4" cy="82.0" r="3.4" fill="#51dacb" fill-opacity="0.4" stroke="#51dacb" stroke-opacity="0.6" stroke-width="0.9"/><circle cx="145.2" cy="82.0" r="3.3" fill="#50d9cd" fill-opacity="0.7" stroke="#5ae1af" stroke-width="1.4"/><circle cx="182.9" cy="82.0" r="3.9" fill="#74e79a" fill-opacity="0.95"/><circle cx="170.3" cy="82.0" r="3.9" fill="#53deb9" fill-opacity="0.95"/><circle cx="157.8" cy="82.0" r="3.3" fill="#58e1b1" fill-opacity="0.7" stroke="#a3ef71" stroke-width="1.4"/><circle cx="126.4" cy="86.0" r="3.4" fill="#acf068" fill-opacity="0.4" stroke="#acf068" stroke-opacity="0.6" stroke-width="0.9"/><circle cx="201.6" cy="86.0" r="3.4" fill="#53debc" fill-opacity="0.4" stroke="#53debc" stroke-opacity="0.6" stroke-width="0.9"/><circle cx="138.9" cy="86.0" r="3.3" fill="#76e898" fill-opacity="0.7" stroke="#53debb" stroke-width="1.4"/><circle cx="189.1" cy="86.0" r="3.3" fill="#50d9cd" fill-opacity="0.7" stroke="#52ddbf" stroke-width="1.4"/><circle cx="151.5" cy="86.0" r="3.3" fill="#50d9cd" fill-opacity="0.7" stroke="#52ddbf" stroke-width="1.4"/><circle cx="176.6" cy="86.0" r="3.3" fill="#53dfb8" fill-opacity="0.7" stroke="#52ddbf" stroke-width="1.4"/><circle cx="164.0" cy="86.1" r="3.3" fill="#53debb" fill-opacity="0.7" stroke="#83ea8e" stroke-width="1.4"/><circle cx="120.1" cy="90.0" r="3.4" fill="#56e1b2" fill-opacity="0.4" stroke="#56e1b2" stroke-opacity="0.6" stroke-width="0.9"/><circle cx="207.8" cy="90.0" r="3.4" fill="#65e4a6" fill-opacity="0.4" stroke="#65e4a6" stroke-opacity="0.6" stroke-width="0.9"/><circle cx="132.6" cy="90.0" r="3.9" fill="#52dcc1" fill-opacity="0.95"/><circle cx="195.3" cy="90.0" r="3.3" fill="#54e0b5" fill-opacity="0.7" stroke="#92ee81" stroke-width="1.4"/><circle cx="145.2" cy="90.1" r="3.9" fill="#7ce994" fill-opacity="0.95"/><circle cx="182.8" cy="90.1" r="3.9" fill="#83ea8e" fill-opacity="0.95"/><circle cx="157.7" cy="90.1" r="3.9" fill="#6ae5a2" fill-opacity="0.95"/><circle cx="170.3" cy="90.1" r="3.9" fill="#70e69d" fill-opacity="0.95"/><circle cx="113.8" cy="94.0" r="3.4" fill="#d3f244" fill-opacity="0.4" stroke="#d3f244" stroke-opacity="0.6" stroke-width="0.9"/><circle cx="214.1" cy="94.0" r="3.4" fill="#50d9cd" fill-opacity="0.4" stroke="#50d9cd" stroke-opacity="0.6" stroke-width="0.9"/><circle cx="126.3" cy="94.0" r="3.9" fill="#aaf06a" fill-opacity="0.95"/><circle cx="201.5" cy="94.0" r="3.9" fill="#69e5a3" fill-opacity="0.95"/><circle cx="138.9" cy="94.1" r="3.3" fill="#c7f24d" fill-opacity="0.7" stroke="#f2f032" stroke-width="1.4"/><circle cx="189.0" cy="94.1" r="3.3" fill="#a0ef74" fill-opacity="0.7" stroke="#def13e" stroke-width="1.4"/><circle cx="151.4" cy="94.1" r="3.9" fill="#81ea90" fill-opacity="0.95"/><circle cx="176.5" cy="94.1" r="3.9" fill="#68e4a4" fill-opacity="0.95"/><circle cx="164.0" cy="94.1" r="3.9" fill="#70e69e" fill-opacity="0.95"/><circle cx="107.4" cy="98.0" r="3.4" fill="#9cef78" fill-opacity="0.4" stroke="#9cef78" stroke-opacity="0.6" stroke-width="0.9"/><circle cx="220.3" cy="98.0" r="3.4" fill="#7de993" fill-opacity="0.4" stroke="#7de993" stroke-opacity="0.6" stroke-width="0.9"/><circle cx="207.8" cy="98.0" r="3.9" fill="#51dac8" fill-opacity="0.95"/><circle cx="120.0" cy="98.1" r="3.3" fill="#9fef75" fill-opacity="0.7" stroke="#54e0b4" stroke-width="1.4"/><circle cx="195.3" cy="98.1" r="3.3" fill="#53debb" fill-opacity="0.7" stroke="#52ddbf" stroke-width="1.4"/><circle cx="132.6" cy="98.1" r="3.3" fill="#bcf158" fill-opacity="0.7" stroke="#f2f032" stroke-width="1.4"/><circle cx="182.8" cy="98.1" r="3.3" fill="#50d9cd" fill-opacity="0.7" stroke="#52ddbf" stroke-width="1.4"/><circle cx="145.1" cy="98.1" r="3.3" fill="#52dcc1" fill-opacity="0.7" stroke="#52ddbf" stroke-width="1.4"/><circle cx="157.7" cy="98.1" r="3.3" fill="#5ce2ae" fill-opacity="0.7" stroke="#95ee7f" stroke-width="1.4"/><circle cx="170.2" cy="98.1" r="3.3" fill="#87eb8a" fill-opacity="0.7" stroke="#bbf159" stroke-width="1.4"/><circle cx="101.1" cy="102.0" r="3.4" fill="#66e4a5" fill-opacity="0.4" stroke="#66e4a5" stroke-opacity="0.6" stroke-width="0.9"/><circle cx="226.5" cy="102.0" r="3.4" fill="#54dfb6" fill-opacity="0.4" stroke="#54dfb6" stroke-opacity="0.6" stroke-width="0.9"/><circle cx="113.7" cy="102.1" r="3.3" fill="#f0f033" fill-opacity="0.7" stroke="#f7eb2e" stroke-width="1.4"/><circle cx="214.0" cy="102.1" r="3.9" fill="#53dfb9" fill-opacity="0.95"/><circle cx="126.3" cy="102.1" r="3.3" fill="#72e69c" fill-opacity="0.7" stroke="#b9f15b" stroke-width="1.4"/><circle cx="201.5" cy="102.1" r="3.3" fill="#50d9cd" fill-opacity="0.7" stroke="#67e4a4" stroke-width="1.4"/><circle cx="138.8" cy="102.1" r="3.9" fill="#c2f152" fill-opacity="0.95"/><circle cx="189.0" cy="102.1" r="3.9" fill="#87eb8a" fill-opacity="0.95"/><circle cx="176.5" cy="102.1" r="3.3" fill="#88eb8a" fill-opacity="0.7" stroke="#55e0b3" stroke-width="1.4"/><circle cx="151.4" cy="102.2" r="3.3" fill="#93ee81" fill-opacity="0.7" stroke="#53deba" stroke-width="1.4"/><circle cx="163.9" cy="102.2" r="3.9" fill="#52dcc2" fill-opacity="0.95"/><circle cx="94.8" cy="106.0" r="3.4" fill="#7de992" fill-opacity="0.4" stroke="#7de992" stroke-opacity="0.6" stroke-width="0.9"/><circle cx="232.7" cy="106.0" r="3.4" fill="#50d9cd" fill-opacity="0.4" stroke="#50d9cd" stroke-opacity="0.6" stroke-width="0.9"/><circle cx="107.4" cy="106.1" r="3.3" fill="#dcf13f" fill-opacity="0.7" stroke="#f7eb2e" stroke-width="1.4"/><circle cx="220.2" cy="106.1" r="3.3" fill="#50d9cd" fill-opacity="0.7" stroke="#52ddbf" stroke-width="1.4"/><circle cx="120.0" cy="106.1" r="3.3" fill="#95ee7f" fill-opacity="0.7" stroke="#cdf247" stroke-width="1.4"/><circle cx="207.7" cy="106.1" r="3.3" fill="#9aee7a" fill-opacity="0.7" stroke="#54dfb6" stroke-width="1.4"/><circle cx="132.5" cy="106.2" r="3.9" fill="#f5f031" fill-opacity="0.95"/><circle cx="195.2" cy="106.2" r="3.9" fill="#51dbc7" fill-opacity="0.95"/><circle cx="145.1" cy="106.2" r="3.3" fill="#d6f242" fill-opacity="0.7" stroke="#f7eb2e" stroke-width="1.4"/><circle cx="182.7" cy="106.2" r="3.3" fill="#bff155" fill-opacity="0.7" stroke="#92ee82" stroke-width="1.4"/><circle cx="157.6" cy="106.2" r="3.9" fill="#94ee80" fill-opacity="0.95"/><circle cx="170.2" cy="106.2" r="3.3" fill="#62e3a8" fill-opacity="0.7" stroke="#9bef79" stroke-width="1.4"/><circle cx="88.5" cy="110.0" r="3.4" fill="#f7e92e" fill-opacity="0.4" stroke="#f7e92e" stroke-opacity="0.6" stroke-width="0.9"/><circle cx="238.9" cy="110.0" r="3.4" fill="#60e3aa" fill-opacity="0.4" stroke="#60e3aa" stroke-opacity="0.6" stroke-width="0.9"/><circle cx="101.1" cy="110.1" r="3.3" fill="#c3f151" fill-opacity="0.7" stroke="#ebf136" stroke-width="1.4"/><circle cx="226.5" cy="110.1" r="3.3" fill="#51dac9" fill-opacity="0.7" stroke="#5ee2ac" stroke-width="1.4"/><circle cx="113.7" cy="110.1" r="3.9" fill="#dbf140" fill-opacity="0.95"/><circle cx="214.0" cy="110.1" r="3.9" fill="#50d9cd" fill-opacity="0.95"/><circle cx="126.2" cy="110.2" r="3.9" fill="#caf24a" fill-opacity="0.95"/><circle cx="201.5" cy="110.2" r="3.3" fill="#94ee80" fill-opacity="0.7" stroke="#c7f24d" stroke-width="1.4"/><circle cx="138.8" cy="110.2" r="3.3" fill="#f2f032" fill-opacity="0.7" stroke="#bcf158" stroke-width="1.4"/><circle cx="189.0" cy="110.2" r="3.3" fill="#79e896" fill-opacity="0.7" stroke="#53deba" stroke-width="1.4"/><circle cx="151.4" cy="110.2" r="3.3" fill="#50d9cd" fill-opacity="0.7" stroke="#52ddbf" stroke-width="1.4"/><circle cx="176.4" cy="110.2" r="3.9" fill="#a4ef70" fill-opacity="0.95"/><circle cx="163.9" cy="110.2" r="3.3" fill="#50d9cd" fill-opacity="0.7" stroke="#52ddbf" stroke-width="1.4"/><circle cx="82.2" cy="114.0" r="3.4" fill="#95ee7f" fill-opacity="0.4" stroke="#95ee7f" stroke-opacity="0.6" stroke-width="0.9"/><circle cx="245.2" cy="114.0" r="3.4" fill="#cdf248" fill-opacity="0.4" stroke="#cdf248" stroke-opacity="0.6" stroke-width="0.9"/><circle cx="94.8" cy="114.1" r="3.9" fill="#b8f15c" fill-opacity="0.95"/><circle cx="232.7" cy="114.1" r="3.3" fill="#50d9cd" fill-opacity="0.7" stroke="#67e4a4" stroke-width="1.4"/><circle cx="107.4" cy="114.1" r="3.3" fill="#d5f243" fill-opacity="0.7" stroke="#abf069" stroke-width="1.4"/><circle cx="220.2" cy="114.1" r="3.9" fill="#50d9cd" fill-opacity="0.95"/><circle cx="120.0" cy="114.2" r="3.3" fill="#b2f062" fill-opacity="0.7" stroke="#def13e" stroke-width="1.4"/><circle cx="207.7" cy="114.2" r="3.9" fill="#53dfb9" fill-opacity="0.95"/><circle cx="132.5" cy="114.2" r="3.3" fill="#d0f246" fill-opacity="0.7" stroke="#e5f13a" stroke-width="1.4"/><circle cx="195.2" cy="114.2" r="3.3" fill="#56e1b2" fill-opacity="0.7" stroke="#52ddbf" stroke-width="1.4"/><circle cx="145.1" cy="114.2" r="3.3" fill="#51dacb" fill-opacity="0.7" stroke="#52ddbf" stroke-width="1.4"/><circle cx="182.7" cy="114.2" r="3.3" fill="#50d9cd" fill-opacity="0.7" stroke="#52ddbf" stroke-width="1.4"/><circle cx="157.6" cy="114.3" r="3.3" fill="#7ee992" fill-opacity="0.7" stroke="#53dfb8" stroke-width="1.4"/><circle cx="170.2" cy="114.3" r="3.3" fill="#caf24a" fill-opacity="0.7" stroke="#f7eb2e" stroke-width="1.4"/><circle cx="75.9" cy="118.0" r="3.4" fill="#5fe2ab" fill-opacity="0.4" stroke="#5fe2ab" stroke-opacity="0.6" stroke-width="0.9"/><circle cx="251.4" cy="118.0" r="3.4" fill="#e1f13c" fill-opacity="0.4" stroke="#e1f13c" stroke-opacity="0.6" stroke-width="0.9"/><circle cx="88.5" cy="118.1" r="3.9" fill="#69e5a3" fill-opacity="0.95"/><circle cx="238.9" cy="118.1" r="3.9" fill="#51dbc7" fill-opacity="0.95"/><circle cx="226.4" cy="118.1" r="3.9" fill="#63e3a8" fill-opacity="0.95"/><circle cx="101.1" cy="118.2" r="3.9" fill="#a0ef74" fill-opacity="0.95"/><circle cx="113.7" cy="118.2" r="3.9" fill="#9bef79" fill-opacity="0.95"/><circle cx="214.0" cy="118.2" r="3.3" fill="#92ed82" fill-opacity="0.7" stroke="#53debb" stroke-width="1.4"/><circle cx="126.2" cy="118.2" r="3.3" fill="#f8e62d" fill-opacity="0.7" stroke="#f7eb2e" stroke-width="1.4"/><circle cx="201.4" cy="118.2" r="3.3" fill="#53dfb8" fill-opacity="0.7" stroke="#52ddbf" stroke-width="1.4"/><circle cx="138.8" cy="118.3" r="3.3" fill="#d2f245" fill-opacity="0.7" stroke="#f7eb2e" stroke-width="1.4"/><circle cx="188.9" cy="118.3" r="3.3" fill="#52dcc1" fill-opacity="0.7" stroke="#6fe69e" stroke-width="1.4"/><circle cx="151.3" cy="118.3" r="3.9" fill="#8fed84" fill-opacity="0.95"/><circle cx="176.4" cy="118.3" r="3.9" fill="#51d9cc" fill-opacity="0.95"/><circle cx="163.9" cy="118.3" r="3.9" fill="#aaf06a" fill-opacity="0.95"/><circle cx="69.6" cy="122.0" r="3.4" fill="#53ddbd" fill-opacity="0.4" stroke="#53ddbd" stroke-opacity="0.6" stroke-width="0.9"/><circle cx="257.6" cy="122.0" r="3.4" fill="#dcf13f" fill-opacity="0.4" stroke="#dcf13f" stroke-opacity="0.6" stroke-width="0.9"/><circle cx="82.2" cy="122.1" r="3.3" fill="#ccf248" fill-opacity="0.7" stroke="#e1f13c" stroke-width="1.4"/><circle cx="245.2" cy="122.1" r="3.9" fill="#89ec89" fill-opacity="0.95"/><circle cx="94.8" cy="122.2" r="3.3" fill="#79e896" fill-opacity="0.7" stroke="#99ee7b" stroke-width="1.4"/><circle cx="232.7" cy="122.2" r="3.3" fill="#60e3aa" fill-opacity="0.7" stroke="#99ee7b" stroke-width="1.4"/><circle cx="107.4" cy="122.2" r="3.9" fill="#d5f243" fill-opacity="0.95"/><circle cx="220.2" cy="122.2" r="3.9" fill="#54dfb6" fill-opacity="0.95"/><circle cx="207.7" cy="122.3" r="3.9" fill="#58e1b1" fill-opacity="0.95"/><circle cx="119.9" cy="122.3" r="3.3" fill="#a2ef72" fill-opacity="0.7" stroke="#57e1b2" stroke-width="1.4"/><circle cx="132.5" cy="122.3" r="3.9" fill="#d2f245" fill-opacity="0.95"/><circle cx="195.2" cy="122.3" r="3.3" fill="#50d9cd" fill-opacity="0.7" stroke="#52ddbf" stroke-width="1.4"/><circle cx="145.1" cy="122.3" r="3.9" fill="#81ea8f" fill-opacity="0.95"/><circle cx="182.7" cy="122.3" r="3.3" fill="#51dac8" fill-opacity="0.7" stroke="#60e3aa" stroke-width="1.4"/><circle cx="157.6" cy="122.3" r="3.3" fill="#8ded86" fill-opacity="0.7" stroke="#53debd" stroke-width="1.4"/><circle cx="170.1" cy="122.3" r="3.9" fill="#8fed84" fill-opacity="0.95"/><circle cx="63.2" cy="126.0" r="3.4" fill="#65e4a6" fill-opacity="0.4" stroke="#65e4a6" stroke-opacity="0.6" stroke-width="0.9"/><circle cx="263.9" cy="126.0" r="3.4" fill="#e4f13a" fill-opacity="0.4" stroke="#e4f13a" stroke-opacity="0.6" stroke-width="0.9"/><circle cx="75.9" cy="126.1" r="3.9" fill="#73e79b" fill-opacity="0.95"/><circle cx="251.4" cy="126.1" r="3.9" fill="#bdf157" fill-opacity="0.95"/><circle cx="88.5" cy="126.2" r="3.3" fill="#c6f24e" fill-opacity="0.7" stroke="#99ee7b" stroke-width="1.4"/><circle cx="238.9" cy="126.2" r="3.9" fill="#7fe991" fill-opacity="0.95"/><circle cx="101.1" cy="126.2" r="3.9" fill="#88eb8a" fill-opacity="0.95"/><circle cx="226.4" cy="126.2" r="3.9" fill="#63e3a8" fill-opacity="0.95"/><circle cx="113.6" cy="126.3" r="3.9" fill="#dff13d" fill-opacity="0.95"/><circle cx="213.9" cy="126.3" r="3.9" fill="#6ae5a2" fill-opacity="0.95"/><circle cx="126.2" cy="126.3" r="3.3" fill="#c8f24c" fill-opacity="0.7" stroke="#eff034" stroke-width="1.4"/><circle cx="201.4" cy="126.3" r="3.9" fill="#50d9cd" fill-opacity="0.95"/><circle cx="138.8" cy="126.4" r="3.9" fill="#e4f13a" fill-opacity="0.95"/><circle cx="188.9" cy="126.4" r="3.9" fill="#50d9cd" fill-opacity="0.95"/><circle cx="151.3" cy="126.4" r="3.3" fill="#50d9cd" fill-opacity="0.7" stroke="#54e0b4" stroke-width="1.4"/><circle cx="176.4" cy="126.4" r="3.3" fill="#55e0b3" fill-opacity="0.7" stroke="#75e799" stroke-width="1.4"/><circle cx="163.9" cy="126.4" r="3.3" fill="#69e4a3" fill-opacity="0.7" stroke="#52ddbf" stroke-width="1.4"/><circle cx="56.9" cy="130.0" r="3.4" fill="#51dac8" fill-opacity="0.4" stroke="#51dac8" stroke-opacity="0.6" stroke-width="0.9"/><circle cx="270.1" cy="130.0" r="3.4" fill="#caf24a" fill-opacity="0.4" stroke="#caf24a" stroke-opacity="0.6" stroke-width="0.9"/><circle cx="69.6" cy="130.1" r="3.3" fill="#52dcc2" fill-opacity="0.7" stroke="#52ddbf" stroke-width="1.4"/><circle cx="257.6" cy="130.1" r="3.9" fill="#aef066" fill-opacity="0.95"/><circle cx="82.2" cy="130.2" r="3.3" fill="#a1ef73" fill-opacity="0.7" stroke="#56e0b3" stroke-width="1.4"/><circle cx="245.2" cy="130.2" r="3.9" fill="#6ee69f" fill-opacity="0.95"/><circle cx="94.8" cy="130.3" r="3.9" fill="#6ce5a1" fill-opacity="0.95"/><circle cx="232.7" cy="130.3" r="3.3" fill="#94ee80" fill-opacity="0.7" stroke="#d5f243" stroke-width="1.4"/><circle cx="107.3" cy="130.3" r="3.3" fill="#c7f24d" fill-opacity="0.7" stroke="#ddf13e" stroke-width="1.4"/><circle cx="220.2" cy="130.3" r="3.3" fill="#cdf247" fill-opacity="0.7" stroke="#89ec89" stroke-width="1.4"/><circle cx="119.9" cy="130.4" r="3.3" fill="#edf035" fill-opacity="0.7" stroke="#ccf248" stroke-width="1.4"/><circle cx="207.7" cy="130.4" r="3.3" fill="#68e4a4" fill-opacity="0.7" stroke="#a0ef74" stroke-width="1.4"/><circle cx="132.5" cy="130.4" r="3.9" fill="#ebf136" fill-opacity="0.95"/><circle cx="195.2" cy="130.4" r="3.9" fill="#65e4a6" fill-opacity="0.95"/><circle cx="145.1" cy="130.4" r="3.3" fill="#80ea90" fill-opacity="0.7" stroke="#c6f24e" stroke-width="1.4"/><circle cx="182.7" cy="130.4" r="3.9" fill="#67e4a5" fill-opacity="0.95"/><circle cx="157.6" cy="130.4" r="3.9" fill="#fbd326" fill-opacity="0.95"/><circle cx="170.1" cy="130.4" r="3.3" fill="#bdf157" fill-opacity="0.7" stroke="#8fed84" stroke-width="1.4"/><circle cx="50.6" cy="134.0" r="3.4" fill="#76e799" fill-opacity="0.4" stroke="#76e799" stroke-opacity="0.6" stroke-width="0.9"/><circle cx="276.3" cy="134.0" r="3.4" fill="#9fef75" fill-opacity="0.4" stroke="#9fef75" stroke-opacity="0.6" stroke-width="0.9"/><circle cx="63.2" cy="134.1" r="3.3" fill="#53debb" fill-opacity="0.7" stroke="#65e4a6" stroke-width="1.4"/><circle cx="263.8" cy="134.1" r="3.9" fill="#b1f063" fill-opacity="0.95"/><circle cx="75.9" cy="134.2" r="3.9" fill="#8cec86" fill-opacity="0.95"/><circle cx="251.4" cy="134.2" r="3.9" fill="#d3f244" fill-opacity="0.95"/><circle cx="88.5" cy="134.3" r="3.3" fill="#94ee80" fill-opacity="0.7" stroke="#60e3aa" stroke-width="1.4"/><circle cx="238.9" cy="134.3" r="3.3" fill="#abf069" fill-opacity="0.7" stroke="#7ce994" stroke-width="1.4"/><circle cx="101.1" cy="134.3" r="3.9" fill="#91ed82" fill-opacity="0.95"/><circle cx="226.4" cy="134.3" r="3.9" fill="#52dcc1" fill-opacity="0.95"/><circle cx="113.6" cy="134.4" r="3.3" fill="#feb820" fill-opacity="0.7" stroke="#f1f033" stroke-width="1.4"/><circle cx="213.9" cy="134.4" r="3.3" fill="#baf15a" fill-opacity="0.7" stroke="#8cec86" stroke-width="1.4"/><circle cx="126.2" cy="134.4" r="3.3" fill="#fbd828" fill-opacity="0.7" stroke="#d9f141" stroke-width="1.4"/><circle cx="201.4" cy="134.4" r="3.3" fill="#54dfb7" fill-opacity="0.7" stroke="#52ddbf" stroke-width="1.4"/><circle cx="138.8" cy="134.5" r="3.3" fill="#75e799" fill-opacity="0.7" stroke="#95ee7f" stroke-width="1.4"/><circle cx="188.9" cy="134.5" r="3.3" fill="#79e896" fill-opacity="0.7" stroke="#52ddbf" stroke-width="1.4"/><circle cx="151.3" cy="134.5" r="3.3" fill="#69e5a3" fill-opacity="0.7" stroke="#52ddbf" stroke-width="1.4"/><circle cx="176.4" cy="134.5" r="3.9" fill="#86eb8b" fill-opacity="0.95"/><circle cx="163.9" cy="134.5" r="3.9" fill="#65e4a6" fill-opacity="0.95"/><circle cx="44.3" cy="138.0" r="3.4" fill="#cef247" fill-opacity="0.4" stroke="#cef247" stroke-opacity="0.6" stroke-width="0.9"/><circle cx="282.5" cy="138.0" r="3.4" fill="#ebf136" fill-opacity="0.4" stroke="#ebf136" stroke-opacity="0.6" stroke-width="0.9"/><circle cx="56.9" cy="138.1" r="3.3" fill="#51d9cb" fill-opacity="0.7" stroke="#52ddbf" stroke-width="1.4"/><circle cx="270.1" cy="138.1" r="3.9" fill="#a1ef73" fill-opacity="0.95"/><circle cx="257.6" cy="138.2" r="3.9" fill="#b2f062" fill-opacity="0.95"/><circle cx="69.6" cy="138.2" r="3.3" fill="#b3f061" fill-opacity="0.7" stroke="#84eb8d" stroke-width="1.4"/><circle cx="82.2" cy="138.3" r="3.3" fill="#bcf158" fill-opacity="0.7" stroke="#eaf137" stroke-width="1.4"/><circle cx="245.2" cy="138.3" r="3.9" fill="#cef247" fill-opacity="0.95"/><circle cx="94.8" cy="138.4" r="3.3" fill="#c7f24d" fill-opacity="0.7" stroke="#eef035" stroke-width="1.4"/><circle cx="232.7" cy="138.4" r="3.9" fill="#aef066" fill-opacity="0.95"/><circle cx="107.3" cy="138.4" r="3.3" fill="#5ae1af" fill-opacity="0.7" stroke="#7ae895" stroke-width="1.4"/><circle cx="220.2" cy="138.4" r="3.3" fill="#55e0b3" fill-opacity="0.7" stroke="#52ddbf" stroke-width="1.4"/><circle cx="119.9" cy="138.5" r="3.3" fill="#cef247" fill-opacity="0.7" stroke="#f4f031" stroke-width="1.4"/><circle cx="207.7" cy="138.5" r="3.9" fill="#94ee80" fill-opacity="0.95"/><circle cx="132.5" cy="138.5" r="3.3" fill="#e8f138" fill-opacity="0.7" stroke="#f7eb2e" stroke-width="1.4"/><circle cx="195.2" cy="138.5" r="3.3" fill="#90ed83" fill-opacity="0.7" stroke="#c3f151" stroke-width="1.4"/><circle cx="145.1" cy="138.6" r="3.9" fill="#cbf249" fill-opacity="0.95"/><circle cx="182.7" cy="138.6" r="3.3" fill="#88eb8a" fill-opacity="0.7" stroke="#52ddbf" stroke-width="1.4"/><circle cx="157.6" cy="138.6" r="3.3" fill="#83ea8e" fill-opacity="0.7" stroke="#c8f24c" stroke-width="1.4"/><circle cx="170.1" cy="138.6" r="3.3" fill="#c3f151" fill-opacity="0.7" stroke="#eff034" stroke-width="1.4"/><circle cx="38.0" cy="142.0" r="3.4" fill="#99ee7b" fill-opacity="0.4" stroke="#99ee7b" stroke-opacity="0.6" stroke-width="0.9"/><circle cx="288.8" cy="142.0" r="3.4" fill="#50d9cd" fill-opacity="0.4" stroke="#50d9cd" stroke-opacity="0.6" stroke-width="0.9"/><circle cx="50.6" cy="142.1" r="3.9" fill="#53debb" fill-opacity="0.95"/><circle cx="276.3" cy="142.1" r="3.3" fill="#b0f064" fill-opacity="0.7" stroke="#e9f137" stroke-width="1.4"/><circle cx="63.3" cy="142.2" r="3.3" fill="#50d9cd" fill-opacity="0.7" stroke="#5ae1af" stroke-width="1.4"/><circle cx="263.9" cy="142.2" r="3.3" fill="#d6f242" fill-opacity="0.7" stroke="#f7eb2e" stroke-width="1.4"/><circle cx="75.9" cy="142.3" r="3.9" fill="#a6ef6e" fill-opacity="0.95"/><circle cx="251.4" cy="142.3" r="3.3" fill="#fec522" fill-opacity="0.7" stroke="#f7eb2e" stroke-width="1.4"/><circle cx="238.9" cy="142.4" r="3.9" fill="#acf068" fill-opacity="0.95"/><circle cx="88.5" cy="142.4" r="3.3" fill="#6ae5a2" fill-opacity="0.7" stroke="#52ddbf" stroke-width="1.4"/><circle cx="101.1" cy="142.5" r="3.3" fill="#52dcc3" fill-opacity="0.7" stroke="#6ce5a0" stroke-width="1.4"/><circle cx="226.4" cy="142.5" r="3.3" fill="#97ee7d" fill-opacity="0.7" stroke="#cef247" stroke-width="1.4"/><circle cx="113.6" cy="142.5" r="3.3" fill="#9def77" fill-opacity="0.7" stroke="#54e0b5" stroke-width="1.4"/><circle cx="213.9" cy="142.5" r="3.3" fill="#8cec87" fill-opacity="0.7" stroke="#cff246" stroke-width="1.4"/><circle cx="126.2" cy="142.6" r="3.9" fill="#d1f245" fill-opacity="0.95"/><circle cx="201.4" cy="142.6" r="3.9" fill="#53dfb9" fill-opacity="0.95"/><circle cx="138.8" cy="142.6" r="3.9" fill="#bff155" fill-opacity="0.95"/><circle cx="188.9" cy="142.6" r="3.9" fill="#b4f060" fill-opacity="0.95"/><circle cx="151.3" cy="142.6" r="3.9" fill="#a2ef72" fill-opacity="0.95"/><circle cx="176.4" cy="142.6" r="3.3" fill="#53debc" fill-opacity="0.7" stroke="#8fed84" stroke-width="1.4"/><circle cx="163.9" cy="142.6" r="3.3" fill="#6ee69f" fill-opacity="0.7" stroke="#52ddbf" stroke-width="1.4"/><circle cx="44.3" cy="146.1" r="3.9" fill="#a6ef6e" fill-opacity="0.95"/><circle cx="282.5" cy="146.1" r="3.3" fill="#f7eb2e" fill-opacity="0.7" stroke="#f7eb2e" stroke-width="1.4"/><circle cx="57.0" cy="146.2" r="3.9" fill="#53dfb8" fill-opacity="0.95"/><circle cx="270.1" cy="146.2" r="3.3" fill="#d7f142" fill-opacity="0.7" stroke="#f7eb2e" stroke-width="1.4"/><circle cx="69.6" cy="146.3" r="3.3" fill="#59e1b0" fill-opacity="0.7" stroke="#98ee7c" stroke-width="1.4"/><circle cx="257.6" cy="146.3" r="3.9" fill="#a2ef72" fill-opacity="0.95"/><circle cx="82.2" cy="146.4" r="3.3" fill="#95ee7f" fill-opacity="0.7" stroke="#b1f063" stroke-width="1.4"/><circle cx="245.2" cy="146.4" r="3.3" fill="#d6f242" fill-opacity="0.7" stroke="#acf068" stroke-width="1.4"/><circle cx="94.8" cy="146.5" r="3.3" fill="#63e3a8" fill-opacity="0.7" stroke="#52ddbf" stroke-width="1.4"/><circle cx="232.7" cy="146.5" r="3.3" fill="#fadc29" fill-opacity="0.7" stroke="#e6f139" stroke-width="1.4"/><circle cx="107.4" cy="146.6" r="3.3" fill="#eaf137" fill-opacity="0.7" stroke="#b1f063" stroke-width="1.4"/><circle cx="220.2" cy="146.6" r="3.3" fill="#9aee7a" fill-opacity="0.7" stroke="#67e4a4" stroke-width="1.4"/><circle cx="119.9" cy="146.6" r="3.9" fill="#aef066" fill-opacity="0.95"/><circle cx="207.7" cy="146.6" r="3.9" fill="#5be1af" fill-opacity="0.95"/><circle cx="132.5" cy="146.7" r="3.3" fill="#def13d" fill-opacity="0.7" stroke="#a1ef73" stroke-width="1.4"/><circle cx="195.2" cy="146.7" r="3.9" fill="#86eb8b" fill-opacity="0.95"/><circle cx="145.1" cy="146.7" r="3.3" fill="#f6ee2f" fill-opacity="0.7" stroke="#f7eb2e" stroke-width="1.4"/><circle cx="182.7" cy="146.7" r="3.9" fill="#c1f153" fill-opacity="0.95"/><circle cx="157.6" cy="146.7" r="3.3" fill="#d4f243" fill-opacity="0.7" stroke="#f7eb2e" stroke-width="1.4"/><circle cx="170.2" cy="146.7" r="3.9" fill="#50d9cd" fill-opacity="0.95"/><circle cx="50.6" cy="150.2" r="3.3" fill="#67e4a4" fill-opacity="0.7" stroke="#a5ef6f" stroke-width="1.4"/><circle cx="276.3" cy="150.2" r="3.9" fill="#d4f243" fill-opacity="0.95"/><circle cx="63.3" cy="150.4" r="3.9" fill="#a0ef74" fill-opacity="0.95"/><circle cx="263.9" cy="150.4" r="3.9" fill="#e2f13b" fill-opacity="0.95"/><circle cx="75.9" cy="150.4" r="3.3" fill="#abf069" fill-opacity="0.7" stroke="#c7f24d" stroke-width="1.4"/><circle cx="251.4" cy="150.4" r="3.3" fill="#c7f24d" fill-opacity="0.7" stroke="#9aee7a" stroke-width="1.4"/><circle cx="88.5" cy="150.5" r="3.9" fill="#72e79c" fill-opacity="0.95"/><circle cx="238.9" cy="150.5" r="3.3" fill="#b3f061" fill-opacity="0.7" stroke="#85eb8c" stroke-width="1.4"/><circle cx="101.1" cy="150.6" r="3.3" fill="#fada29" fill-opacity="0.7" stroke="#f7eb2e" stroke-width="1.4"/><circle cx="226.5" cy="150.6" r="3.3" fill="#97ee7d" fill-opacity="0.7" stroke="#caf24a" stroke-width="1.4"/><circle cx="113.7" cy="150.7" r="3.9" fill="#9cef78" fill-opacity="0.95"/><circle cx="214.0" cy="150.7" r="3.3" fill="#a4ef70" fill-opacity="0.7" stroke="#d8f141" stroke-width="1.4"/><circle cx="126.2" cy="150.7" r="3.3" fill="#b7f05d" fill-opacity="0.7" stroke="#d1f245" stroke-width="1.4"/><circle cx="201.5" cy="150.7" r="3.3" fill="#baf15a" fill-opacity="0.7" stroke="#e8f138" stroke-width="1.4"/><circle cx="138.8" cy="150.7" r="3.3" fill="#edf035" fill-opacity="0.7" stroke="#f7eb2e" stroke-width="1.4"/><circle cx="188.9" cy="150.7" r="3.3" fill="#c5f14f" fill-opacity="0.7" stroke="#98ee7c" stroke-width="1.4"/><circle cx="151.3" cy="150.8" r="3.3" fill="#b7f15d" fill-opacity="0.7" stroke="#e6f139" stroke-width="1.4"/><circle cx="176.4" cy="150.8" r="3.9" fill="#85eb8c" fill-opacity="0.95"/><circle cx="163.9" cy="150.8" r="3.3" fill="#82ea8f" fill-opacity="0.7" stroke="#52ddbf" stroke-width="1.4"/><circle cx="57.0" cy="154.4" r="3.3" fill="#d1f245" fill-opacity="0.7" stroke="#f7eb2e" stroke-width="1.4"/><circle cx="270.1" cy="154.4" r="3.9" fill="#f6ef30" fill-opacity="0.95"/><circle cx="69.6" cy="154.5" r="3.9" fill="#93ee80" fill-opacity="0.95"/><circle cx="257.7" cy="154.5" r="3.3" fill="#c9f24b" fill-opacity="0.7" stroke="#dff13d" stroke-width="1.4"/><circle cx="82.2" cy="154.6" r="3.9" fill="#8dec86" fill-opacity="0.95"/><circle cx="245.2" cy="154.6" r="3.9" fill="#a5ef6f" fill-opacity="0.95"/><circle cx="94.8" cy="154.6" r="3.9" fill="#8ded86" fill-opacity="0.95"/><circle cx="232.7" cy="154.6" r="3.9" fill="#7fea91" fill-opacity="0.95"/><circle cx="107.4" cy="154.7" r="3.9" fill="#95ee7f" fill-opacity="0.95"/><circle cx="220.2" cy="154.7" r="3.9" fill="#99ee7b" fill-opacity="0.95"/><circle cx="120.0" cy="154.8" r="3.9" fill="#d7f142" fill-opacity="0.95"/><circle cx="207.7" cy="154.8" r="3.3" fill="#99ee7b" fill-opacity="0.7" stroke="#d8f141" stroke-width="1.4"/><circle cx="132.5" cy="154.8" r="3.3" fill="#55e0b3" fill-opacity="0.7" stroke="#8eed85" stroke-width="1.4"/><circle cx="195.2" cy="154.8" r="3.3" fill="#52dbc4" fill-opacity="0.7" stroke="#54dfb6" stroke-width="1.4"/><circle cx="145.1" cy="154.8" r="3.9" fill="#fbd627" fill-opacity="0.95"/><circle cx="182.7" cy="154.8" r="3.9" fill="#52ddbf" fill-opacity="0.95"/><circle cx="157.6" cy="154.8" r="3.3" fill="#53dfb8" fill-opacity="0.7" stroke="#97ee7d" stroke-width="1.4"/><circle cx="170.2" cy="154.8" r="3.9" fill="#91ed83" fill-opacity="0.95"/><circle cx="63.3" cy="158.5" r="3.3" fill="#5be2ae" fill-opacity="0.7" stroke="#52ddbf" stroke-width="1.4"/><circle cx="263.9" cy="158.5" r="3.9" fill="#dcf13f" fill-opacity="0.95"/><circle cx="75.9" cy="158.6" r="3.9" fill="#56e0b2" fill-opacity="0.95"/><circle cx="251.4" cy="158.6" r="3.3" fill="#eaf137" fill-opacity="0.7" stroke="#b1f063" stroke-width="1.4"/><circle cx="88.5" cy="158.7" r="3.3" fill="#cbf249" fill-opacity="0.7" stroke="#f1f033" stroke-width="1.4"/><circle cx="239.0" cy="158.7" r="3.9" fill="#b9f15b" fill-opacity="0.95"/><circle cx="101.1" cy="158.7" r="3.9" fill="#e3f13b" fill-opacity="0.95"/><circle cx="226.5" cy="158.7" r="3.3" fill="#9fef75" fill-opacity="0.7" stroke="#dcf13f" stroke-width="1.4"/><circle cx="113.7" cy="158.8" r="3.3" fill="#fbd527" fill-opacity="0.7" stroke="#f7eb2e" stroke-width="1.4"/><circle cx="214.0" cy="158.8" r="3.3" fill="#d6f242" fill-opacity="0.7" stroke="#97ee7d" stroke-width="1.4"/><circle cx="126.3" cy="158.8" r="3.3" fill="#e5f13a" fill-opacity="0.7" stroke="#f7ec2f" stroke-width="1.4"/><circle cx="201.5" cy="158.8" r="3.9" fill="#b3f061" fill-opacity="0.95"/><circle cx="138.8" cy="158.9" r="3.9" fill="#e4f13a" fill-opacity="0.95"/><circle cx="189.0" cy="158.9" r="3.9" fill="#87eb8b" fill-opacity="0.95"/><circle cx="151.4" cy="158.9" r="3.3" fill="#65e4a6" fill-opacity="0.7" stroke="#52ddbf" stroke-width="1.4"/><circle cx="176.5" cy="158.9" r="3.9" fill="#c0f154" fill-opacity="0.95"/><circle cx="163.9" cy="158.9" r="3.9" fill="#b8f15c" fill-opacity="0.95"/><circle cx="69.6" cy="162.6" r="3.3" fill="#adf067" fill-opacity="0.7" stroke="#7ee992" stroke-width="1.4"/><circle cx="257.7" cy="162.6" r="3.3" fill="#cbf249" fill-opacity="0.7" stroke="#f5f030" stroke-width="1.4"/><circle cx="82.2" cy="162.7" r="3.3" fill="#abf069" fill-opacity="0.7" stroke="#e6f139" stroke-width="1.4"/><circle cx="245.2" cy="162.7" r="3.9" fill="#b5f05f" fill-opacity="0.95"/><circle cx="94.8" cy="162.8" r="3.9" fill="#daf140" fill-opacity="0.95"/><circle cx="232.7" cy="162.8" r="3.3" fill="#5fe2ab" fill-opacity="0.7" stroke="#98ee7c" stroke-width="1.4"/><circle cx="107.4" cy="162.8" r="3.9" fill="#fbd728" fill-opacity="0.95"/><circle cx="220.3" cy="162.8" r="3.3" fill="#bdf157" fill-opacity="0.7" stroke="#d6f243" stroke-width="1.4"/><circle cx="120.0" cy="162.9" r="3.9" fill="#b9f15b" fill-opacity="0.95"/><circle cx="207.8" cy="162.9" r="3.3" fill="#6ce5a1" fill-opacity="0.7" stroke="#a3ef71" stroke-width="1.4"/><circle cx="132.6" cy="162.9" r="3.9" fill="#d8f141" fill-opacity="0.95"/><circle cx="195.2" cy="162.9" r="3.3" fill="#90ed83" fill-opacity="0.7" stroke="#c3f151" stroke-width="1.4"/><circle cx="145.1" cy="163.0" r="3.3" fill="#54dfb6" fill-opacity="0.7" stroke="#90ed83" stroke-width="1.4"/><circle cx="182.7" cy="163.0" r="3.9" fill="#8fed84" fill-opacity="0.95"/><circle cx="157.7" cy="163.0" r="3.3" fill="#baf15a" fill-opacity="0.7" stroke="#f1f033" stroke-width="1.4"/><circle cx="170.2" cy="163.0" r="3.3" fill="#a5ef6f" fill-opacity="0.7" stroke="#e1f13c" stroke-width="1.4"/><circle cx="75.9" cy="166.8" r="3.9" fill="#c1f153" fill-opacity="0.95"/><circle cx="251.5" cy="166.8" r="3.9" fill="#f8e42c" fill-opacity="0.95"/><circle cx="88.6" cy="166.8" r="3.3" fill="#b9f15b" fill-opacity="0.7" stroke="#f0f033" stroke-width="1.4"/><circle cx="239.0" cy="166.8" r="3.3" fill="#e8f138" fill-opacity="0.7" stroke="#c4f150" stroke-width="1.4"/><circle cx="101.1" cy="166.9" r="3.3" fill="#d2f245" fill-opacity="0.7" stroke="#91ed83" stroke-width="1.4"/><circle cx="226.5" cy="166.9" r="3.3" fill="#d0f246" fill-opacity="0.7" stroke="#e5f13a" stroke-width="1.4"/><circle cx="113.7" cy="167.0" r="3.3" fill="#e8f138" fill-opacity="0.7" stroke="#f7eb2e" stroke-width="1.4"/><circle cx="214.0" cy="167.0" r="3.9" fill="#dbf140" fill-opacity="0.95"/><circle cx="126.3" cy="167.0" r="3.3" fill="#d1f245" fill-opacity="0.7" stroke="#f7eb2e" stroke-width="1.4"/><circle cx="201.5" cy="167.0" r="3.9" fill="#c6f24e" fill-opacity="0.95"/><circle cx="138.9" cy="167.0" r="3.3" fill="#cbf249" fill-opacity="0.7" stroke="#f7eb2e" stroke-width="1.4"/><circle cx="189.0" cy="167.0" r="3.3" fill="#baf15a" fill-opacity="0.7" stroke="#f1f033" stroke-width="1.4"/><circle cx="151.4" cy="167.1" r="3.3" fill="#5fe2ab" fill-opacity="0.7" stroke="#9def77" stroke-width="1.4"/><circle cx="176.5" cy="167.1" r="3.9" fill="#54dfb6" fill-opacity="0.95"/><circle cx="164.0" cy="167.1" r="3.9" fill="#e4f13a" fill-opacity="0.95"/><circle cx="82.3" cy="170.9" r="3.9" fill="#c2f152" fill-opacity="0.95"/><circle cx="245.3" cy="170.9" r="3.9" fill="#9fef75" fill-opacity="0.95"/><circle cx="94.9" cy="170.9" r="3.3" fill="#b2f062" fill-opacity="0.7" stroke="#cdf247" stroke-width="1.4"/><circle cx="232.8" cy="170.9" r="3.3" fill="#b3f061" fill-opacity="0.7" stroke="#ecf036" stroke-width="1.4"/><circle cx="107.5" cy="171.0" r="3.3" fill="#d8f141" fill-opacity="0.7" stroke="#99ee7b" stroke-width="1.4"/><circle cx="220.3" cy="171.0" r="3.3" fill="#9bef79" fill-opacity="0.7" stroke="#cdf247" stroke-width="1.4"/><circle cx="120.0" cy="171.1" r="3.3" fill="#eef034" fill-opacity="0.7" stroke="#b7f05d" stroke-width="1.4"/><circle cx="207.8" cy="171.1" r="3.9" fill="#d7f142" fill-opacity="0.95"/><circle cx="132.6" cy="171.1" r="3.3" fill="#73e79b" fill-opacity="0.7" stroke="#baf15a" stroke-width="1.4"/><circle cx="195.3" cy="171.1" r="3.9" fill="#7be994" fill-opacity="0.95"/><circle cx="145.2" cy="171.1" r="3.3" fill="#8cec86" fill-opacity="0.7" stroke="#c0f154" stroke-width="1.4"/><circle cx="182.8" cy="171.1" r="3.3" fill="#74e79a" fill-opacity="0.7" stroke="#abf069" stroke-width="1.4"/><circle cx="157.7" cy="171.1" r="3.3" fill="#b0f064" fill-opacity="0.7" stroke="#81ea8f" stroke-width="1.4"/><circle cx="170.2" cy="171.1" r="3.9" fill="#b6f05e" fill-opacity="0.95"/><circle cx="88.6" cy="175.0" r="3.9" fill="#ecf036" fill-opacity="0.95"/><circle cx="239.1" cy="175.0" r="3.3" fill="#d0f246" fill-opacity="0.7" stroke="#8dec86" stroke-width="1.4"/><circle cx="101.2" cy="175.1" r="3.3" fill="#f6ef30" fill-opacity="0.7" stroke="#f7eb2e" stroke-width="1.4"/><circle cx="226.6" cy="175.1" r="3.9" fill="#6ce5a1" fill-opacity="0.95"/><circle cx="113.8" cy="175.1" r="3.3" fill="#f8e62d" fill-opacity="0.7" stroke="#f7eb2e" stroke-width="1.4"/><circle cx="214.1" cy="175.1" r="3.9" fill="#8fed84" fill-opacity="0.95"/><circle cx="126.3" cy="175.2" r="3.9" fill="#dcf13f" fill-opacity="0.95"/><circle cx="201.6" cy="175.2" r="3.3" fill="#b3f061" fill-opacity="0.7" stroke="#84eb8d" stroke-width="1.4"/><circle cx="138.9" cy="175.2" r="3.3" fill="#ccf248" fill-opacity="0.7" stroke="#f2f032" stroke-width="1.4"/><circle cx="189.1" cy="175.2" r="3.3" fill="#a1ef73" fill-opacity="0.7" stroke="#def13e" stroke-width="1.4"/><circle cx="151.5" cy="175.2" r="3.9" fill="#c3f151" fill-opacity="0.95"/><circle cx="176.5" cy="175.2" r="3.3" fill="#52dbc4" fill-opacity="0.7" stroke="#52ddbf" stroke-width="1.4"/><circle cx="164.0" cy="175.2" r="3.9" fill="#71e69c" fill-opacity="0.95"/><circle cx="94.9" cy="179.1" r="3.9" fill="#c3f151" fill-opacity="0.95"/><circle cx="232.8" cy="179.1" r="3.3" fill="#c5f14f" fill-opacity="0.7" stroke="#7fe991" stroke-width="1.4"/><circle cx="107.5" cy="179.2" r="3.3" fill="#f8e42c" fill-opacity="0.7" stroke="#f7eb2e" stroke-width="1.4"/><circle cx="220.3" cy="179.2" r="3.9" fill="#c5f24f" fill-opacity="0.95"/><circle cx="120.1" cy="179.2" r="3.3" fill="#b7f15d" fill-opacity="0.7" stroke="#d2f245" stroke-width="1.4"/><circle cx="207.9" cy="179.2" r="3.3" fill="#baf15a" fill-opacity="0.7" stroke="#d3f244" stroke-width="1.4"/><circle cx="132.7" cy="179.3" r="3.3" fill="#fdc823" fill-opacity="0.7" stroke="#f7eb2e" stroke-width="1.4"/><circle cx="195.3" cy="179.3" r="3.3" fill="#7de993" fill-opacity="0.7" stroke="#52ddbf" stroke-width="1.4"/><circle cx="145.2" cy="179.3" r="3.9" fill="#a0ef74" fill-opacity="0.95"/><circle cx="182.8" cy="179.3" r="3.9" fill="#6ae5a2" fill-opacity="0.95"/><circle cx="157.8" cy="179.3" r="3.9" fill="#63e3a8" fill-opacity="0.95"/><circle cx="170.3" cy="179.3" r="3.3" fill="#71e69d" fill-opacity="0.7" stroke="#b8f15c" stroke-width="1.4"/><circle cx="101.2" cy="183.2" r="3.3" fill="#d1f245" fill-opacity="0.7" stroke="#e6f139" stroke-width="1.4"/><circle cx="226.6" cy="183.2" r="3.9" fill="#fbd326" fill-opacity="0.95"/><circle cx="113.8" cy="183.3" r="3.9" fill="#55e0b3" fill-opacity="0.95"/><circle cx="214.1" cy="183.3" r="3.9" fill="#9eef76" fill-opacity="0.95"/><circle cx="126.4" cy="183.3" r="3.3" fill="#b5f05f" fill-opacity="0.7" stroke="#e5f13a" stroke-width="1.4"/><circle cx="201.6" cy="183.3" r="3.3" fill="#a5ef6f" fill-opacity="0.7" stroke="#e1f13c" stroke-width="1.4"/><circle cx="139.0" cy="183.4" r="3.3" fill="#ccf248" fill-opacity="0.7" stroke="#f2f033" stroke-width="1.4"/><circle cx="189.1" cy="183.4" r="3.9" fill="#8aec88" fill-opacity="0.95"/><circle cx="151.5" cy="183.4" r="3.3" fill="#abf069" fill-opacity="0.7" stroke="#ddf13e" stroke-width="1.4"/><circle cx="176.6" cy="183.4" r="3.9" fill="#a9ef6b" fill-opacity="0.95"/><circle cx="164.1" cy="183.4" r="3.3" fill="#96ee7e" fill-opacity="0.7" stroke="#c8f24c" stroke-width="1.4"/><circle cx="107.6" cy="187.4" r="3.9" fill="#caf24a" fill-opacity="0.95"/><circle cx="220.4" cy="187.4" r="3.9" fill="#bff155" fill-opacity="0.95"/><circle cx="120.2" cy="187.4" r="3.3" fill="#94ee80" fill-opacity="0.7" stroke="#c7f24d" stroke-width="1.4"/><circle cx="207.9" cy="187.4" r="3.9" fill="#d1f245" fill-opacity="0.95"/><circle cx="132.7" cy="187.5" r="3.3" fill="#c6f24e" fill-opacity="0.7" stroke="#f7ec2f" stroke-width="1.4"/><circle cx="195.4" cy="187.5" r="3.9" fill="#70e69e" fill-opacity="0.95"/><circle cx="145.3" cy="187.5" r="3.3" fill="#cef247" fill-opacity="0.7" stroke="#a2ef72" stroke-width="1.4"/><circle cx="182.9" cy="187.5" r="3.3" fill="#54dfb6" fill-opacity="0.7" stroke="#89ec89" stroke-width="1.4"/><circle cx="157.8" cy="187.5" r="3.3" fill="#52dcc1" fill-opacity="0.7" stroke="#52ddbf" stroke-width="1.4"/><circle cx="170.4" cy="187.5" r="3.3" fill="#50d9cd" fill-opacity="0.7" stroke="#5ae1af" stroke-width="1.4"/><circle cx="113.9" cy="191.5" r="3.9" fill="#dbf13f" fill-opacity="0.95"/><circle cx="214.2" cy="191.5" r="3.3" fill="#bcf158" fill-opacity="0.7" stroke="#eaf137" stroke-width="1.4"/><circle cx="126.5" cy="191.5" r="3.3" fill="#abf069" fill-opacity="0.7" stroke="#d9f141" stroke-width="1.4"/><circle cx="201.7" cy="191.5" r="3.9" fill="#9def77" fill-opacity="0.95"/><circle cx="139.0" cy="191.6" r="3.9" fill="#53debb" fill-opacity="0.95"/><circle cx="189.2" cy="191.6" r="3.3" fill="#53debb" fill-opacity="0.7" stroke="#65e4a7" stroke-width="1.4"/><circle cx="151.6" cy="191.6" r="3.3" fill="#54dfb7" fill-opacity="0.7" stroke="#99ee7b" stroke-width="1.4"/><circle cx="176.7" cy="191.6" r="3.3" fill="#8bec87" fill-opacity="0.7" stroke="#cef247" stroke-width="1.4"/><circle cx="164.1" cy="191.6" r="3.3" fill="#52dcc4" fill-opacity="0.7" stroke="#70e69d" stroke-width="1.4"/><circle cx="120.2" cy="195.6" r="3.3" fill="#a1ef73" fill-opacity="0.7" stroke="#d2f245" stroke-width="1.4"/><circle cx="208.0" cy="195.6" r="3.3" fill="#d2f244" fill-opacity="0.7" stroke="#f6ee2f" stroke-width="1.4"/><circle cx="132.8" cy="195.7" r="3.3" fill="#adf067" fill-opacity="0.7" stroke="#7de993" stroke-width="1.4"/><circle cx="195.5" cy="195.7" r="3.9" fill="#7ee992" fill-opacity="0.95"/><circle cx="145.3" cy="195.7" r="3.3" fill="#53ddbd" fill-opacity="0.7" stroke="#5fe3ab" stroke-width="1.4"/><circle cx="183.0" cy="195.7" r="3.9" fill="#93ee81" fill-opacity="0.95"/><circle cx="157.9" cy="195.7" r="3.3" fill="#7ce993" fill-opacity="0.7" stroke="#53dfb9" stroke-width="1.4"/><circle cx="170.4" cy="195.7" r="3.3" fill="#53debb" fill-opacity="0.7" stroke="#65e4a6" stroke-width="1.4"/><circle cx="126.5" cy="199.8" r="3.3" fill="#a2ef72" fill-opacity="0.7" stroke="#dff13d" stroke-width="1.4"/><circle cx="201.8" cy="199.8" r="3.9" fill="#87eb8b" fill-opacity="0.95"/><circle cx="139.1" cy="199.8" r="3.3" fill="#52ddbf" fill-opacity="0.7" stroke="#7ce994" stroke-width="1.4"/><circle cx="189.3" cy="199.8" r="3.9" fill="#51dac8" fill-opacity="0.95"/><circle cx="151.7" cy="199.8" r="3.9" fill="#50d9cd" fill-opacity="0.95"/><circle cx="176.7" cy="199.8" r="3.9" fill="#50d9cd" fill-opacity="0.95"/><circle cx="164.2" cy="199.8" r="3.9" fill="#50d9cd" fill-opacity="0.95"/><circle cx="132.9" cy="203.9" r="3.3" fill="#a9f06b" fill-opacity="0.7" stroke="#d8f141" stroke-width="1.4"/><circle cx="195.6" cy="203.9" r="3.3" fill="#54dfb7" fill-opacity="0.7" stroke="#52ddbf" stroke-width="1.4"/><circle cx="145.4" cy="203.9" r="3.9" fill="#7ae895" fill-opacity="0.95"/><circle cx="183.0" cy="203.9" r="3.3" fill="#54dfb6" fill-opacity="0.7" stroke="#89eb89" stroke-width="1.4"/><circle cx="158.0" cy="203.9" r="3.3" fill="#51dac9" fill-opacity="0.7" stroke="#65e4a6" stroke-width="1.4"/><circle cx="170.5" cy="203.9" r="3.9" fill="#93ee80" fill-opacity="0.95"/><circle cx="139.2" cy="208.0" r="3.9" fill="#50d9cd" fill-opacity="0.95"/><circle cx="189.3" cy="208.0" r="3.9" fill="#61e3a9" fill-opacity="0.95"/><circle cx="151.8" cy="208.0" r="3.9" fill="#50d9cd" fill-opacity="0.95"/><circle cx="176.8" cy="208.0" r="3.9" fill="#54dfb7" fill-opacity="0.95"/><circle cx="164.3" cy="208.0" r="3.3" fill="#8aec88" fill-opacity="0.7" stroke="#c4f150" stroke-width="1.4"/><circle cx="145.5" cy="212.1" r="3.9" fill="#c9f24b" fill-opacity="0.95"/><circle cx="183.1" cy="212.1" r="3.3" fill="#62e3a9" fill-opacity="0.7" stroke="#52ddbf" stroke-width="1.4"/><circle cx="158.1" cy="212.1" r="3.3" fill="#51dbc6" fill-opacity="0.7" stroke="#6ae5a2" stroke-width="1.4"/><circle cx="170.6" cy="212.1" r="3.3" fill="#50d9cd" fill-opacity="0.7" stroke="#52ddbf" stroke-width="1.4"/><circle cx="151.9" cy="216.2" r="3.9" fill="#52dcc1" fill-opacity="0.95"/><circle cx="176.9" cy="216.2" r="3.3" fill="#50d9cd" fill-opacity="0.7" stroke="#67e4a4" stroke-width="1.4"/><circle cx="164.4" cy="216.3" r="3.9" fill="#52dcc3" fill-opacity="0.95"/><circle cx="158.2" cy="220.4" r="3.9" fill="#a2ef72" fill-opacity="0.95"/><circle cx="170.7" cy="220.4" r="3.3" fill="#54e0b4" fill-opacity="0.7" stroke="#94ee80" stroke-width="1.4"/><circle cx="164.5" cy="224.5" r="3.3" fill="#69e5a3" fill-opacity="0.7" stroke="#b2f062" stroke-width="1.4"/><circle cx="181.5" cy="123.5" r="4" fill="#3c8ce0" fill-opacity="0.95"/><circle cx="187.0" cy="119.0" r="4" fill="#3c8ce0" fill-opacity="0.95"/><circle cx="193.4" cy="131.9" r="4" fill="#3478dc" fill-opacity="0.95"/><circle cx="199.4" cy="127.5" r="4" fill="#3c84e0" fill-opacity="0.95"/><circle cx="144.3" cy="131.9" r="4" fill="#2454c8" fill-opacity="0.95"/><circle cx="156.2" cy="140.2" r="4" fill="#2454c8" fill-opacity="0.95"/><circle cx="163.2" cy="135.4" r="4" fill="#3c84e0" fill-opacity="0.95"/><circle cx="150.7" cy="143.4" r="4" fill="#3c84e0" fill-opacity="0.95"/><circle cx="169.2" cy="147.8" r="4" fill="#2858cc" fill-opacity="0.95"/><circle cx="175.1" cy="143.8" r="4" fill="#3c88e0" fill-opacity="0.95"/><circle cx="163.2" cy="151.7" r="4" fill="#3c88e0" fill-opacity="0.95"/><circle cx="181.1" cy="156.1" r="4" fill="#2454c8" fill-opacity="0.95"/><circle cx="217.3" cy="147.8" r="4" fill="#3c88e0" fill-opacity="0.95"/><circle cx="108.5" cy="139.8" r="4" fill="#4c9ce8" fill-opacity="0.95"/><circle cx="132.4" cy="155.7" r="4" fill="#3c80dc" fill-opacity="0.95"/><circle cx="126.8" cy="159.7" r="4" fill="#3c80dc" fill-opacity="0.95"/><circle cx="144.3" cy="164.1" r="4" fill="#3c80dc" fill-opacity="0.95"/><circle cx="138.3" cy="168.0" r="4" fill="#3c84e0" fill-opacity="0.95"/><circle cx="169.6" cy="180.6" r="4" fill="#58b4e8" fill-opacity="0.95"/><circle cx="156.6" cy="107.0" r="4" fill="#3c84e0" fill-opacity="0.95"/><circle cx="108.0" cy="105.7" r="3.4" fill="#f8b838" fill-opacity="0.7"/><circle cx="114.0" cy="93.0" r="3.4" fill="#f8b838" fill-opacity="0.7"/><circle cx="120.0" cy="98.0" r="3.4" fill="#f8b838" fill-opacity="0.7"/><circle cx="102.0" cy="110.0" r="3.4" fill="#f8b838" fill-opacity="0.7"/><circle cx="217.3" cy="180.6" r="2.8" fill="none" stroke="#f89030" stroke-width="1.2"/></g><path d="M69.6 162.6L195.4 82.0M69.6 122.0L195.6 203.9M101.2 183.2L226.5 102.0M101.1 102.0L226.6 183.2M132.9 203.9L257.6 122.0M132.7 82.0L257.7 162.6M164.25 62V187" stroke="#fff" stroke-opacity="0.28" stroke-width="0.7" fill="none"/><path d="M38 142L164.25 62L288.75 142" stroke="#fff" stroke-opacity="0.6" stroke-width="0.9" fill="none"/><path d="M38 142L164.5 224.5L288.75 142 M164.5 224.5L164.60000000000002 353.4 M38 142L38.75 267.5L164.60000000000002 353.4L288.29999999999995 268L288.75 142" stroke="#fff" stroke-opacity="0.9" stroke-width="1" fill="none"/><circle cx="40.2" cy="265.0" r="0.9" fill="#fff" fill-opacity="0.8"/><circle cx="46.5" cy="269.3" r="0.9" fill="#fff" fill-opacity="0.8"/><circle cx="52.8" cy="273.6" r="0.9" fill="#fff" fill-opacity="0.8"/><circle cx="59.1" cy="277.9" r="0.9" fill="#fff" fill-opacity="0.8"/><circle cx="65.4" cy="282.2" r="0.9" fill="#fff" fill-opacity="0.8"/><circle cx="71.7" cy="286.5" r="0.9" fill="#fff" fill-opacity="0.8"/><circle cx="78.0" cy="290.8" r="0.9" fill="#fff" fill-opacity="0.8"/><circle cx="84.3" cy="295.1" r="0.9" fill="#fff" fill-opacity="0.8"/><circle cx="90.6" cy="299.4" r="0.9" fill="#fff" fill-opacity="0.8"/><circle cx="96.9" cy="303.7" r="0.9" fill="#fff" fill-opacity="0.8"/><circle cx="103.2" cy="307.9" r="0.9" fill="#fff" fill-opacity="0.8"/><circle cx="109.5" cy="312.2" r="0.9" fill="#fff" fill-opacity="0.8"/><circle cx="115.8" cy="316.5" r="0.9" fill="#fff" fill-opacity="0.8"/><circle cx="122.1" cy="320.8" r="0.9" fill="#fff" fill-opacity="0.8"/><circle cx="128.3" cy="325.1" r="0.9" fill="#fff" fill-opacity="0.8"/><circle cx="134.6" cy="329.4" r="0.9" fill="#fff" fill-opacity="0.8"/><circle cx="140.9" cy="333.7" r="0.9" fill="#fff" fill-opacity="0.8"/><circle cx="147.2" cy="338.0" r="0.9" fill="#fff" fill-opacity="0.8"/><circle cx="153.5" cy="342.3" r="0.9" fill="#fff" fill-opacity="0.8"/><circle cx="159.8" cy="346.6" r="0.9" fill="#fff" fill-opacity="0.8"/><circle cx="166.1" cy="350.9" r="0.9" fill="#fff" fill-opacity="0.8"/><circle cx="197.0" cy="333.2" r="0.9" fill="#fff" fill-opacity="0.85"/><circle cx="227.9" cy="311.9" r="0.9" fill="#fff" fill-opacity="0.85"/><circle cx="258.9" cy="290.6" r="0.9" fill="#fff" fill-opacity="0.85"/><rect x="37.2" y="168.5" width="1" height="3" fill="#fff" fill-opacity="0.8"/><rect x="37.2" y="199.2" width="1" height="3" fill="#fff" fill-opacity="0.8"/><rect x="37.2" y="229.5" width="1" height="3" fill="#fff" fill-opacity="0.8"/><g font-family="'Liberation Sans',sans-serif"><text transform="translate(34.8 143.0) scale(0.88 1)" font-size="9.8" text-anchor="end" fill="#eef0f4" stroke="#eef0f4" stroke-width="0.3">10</text><text transform="translate(34.8 173.5) scale(0.88 1)" font-size="9.8" text-anchor="end" fill="#eef0f4" stroke="#eef0f4" stroke-width="0.3">5</text><text transform="translate(34.8 204.2) scale(0.88 1)" font-size="9.8" text-anchor="end" fill="#eef0f4" stroke="#eef0f4" stroke-width="0.3">0</text><text transform="translate(34.8 234.5) scale(0.88 1)" font-size="9.8" text-anchor="end" fill="#eef0f4" stroke="#eef0f4" stroke-width="0.3">−5</text><text transform="translate(34.8 266.0) scale(0.88 1)" font-size="9.8" text-anchor="end" fill="#eef0f4" stroke="#eef0f4" stroke-width="0.3">−10</text><text transform="translate(9.5 206.5) rotate(-90) translate(0 3.5) scale(0.88 1)" font-size="10.5" text-anchor="middle" fill="#eef0f4" stroke="#eef0f4" stroke-width="0.3">Z</text><text transform="translate(27.0 277.5) scale(0.88 1)" font-size="9.8" text-anchor="middle" fill="#eef0f4" stroke="#eef0f4" stroke-width="0.3">−10</text><text transform="translate(60.5 299.3) scale(0.88 1)" font-size="9.8" text-anchor="middle" fill="#eef0f4" stroke="#eef0f4" stroke-width="0.3">−5</text><text transform="translate(94.0 320.2) scale(0.88 1)" font-size="9.8" text-anchor="middle" fill="#eef0f4" stroke="#eef0f4" stroke-width="0.3">0</text><text transform="translate(123.7 340.5) scale(0.88 1)" font-size="9.8" text-anchor="middle" fill="#eef0f4" stroke="#eef0f4" stroke-width="0.3">5</text><text transform="translate(152.9 362.5) scale(0.88 1)" font-size="9.8" text-anchor="middle" fill="#eef0f4" stroke="#eef0f4" stroke-width="0.3">10</text><text transform="translate(175.8 362.5) scale(0.88 1)" font-size="9.8" text-anchor="middle" fill="#eef0f4" stroke="#eef0f4" stroke-width="0.3">−10</text><text transform="translate(204.6 341.2) scale(0.88 1)" font-size="9.8" text-anchor="middle" fill="#eef0f4" stroke="#eef0f4" stroke-width="0.3">−5</text><text transform="translate(232.6 320.2) scale(0.88 1)" font-size="9.8" text-anchor="middle" fill="#eef0f4" stroke="#eef0f4" stroke-width="0.3">0</text><text transform="translate(262.8 299.3) scale(0.88 1)" font-size="9.8" text-anchor="middle" fill="#eef0f4" stroke="#eef0f4" stroke-width="0.3">5</text><text transform="translate(296.3 278.8) scale(0.88 1)" font-size="9.8" text-anchor="middle" fill="#eef0f4" stroke="#eef0f4" stroke-width="0.3">10</text><text transform="translate(107.9 376.5) scale(0.88 1)" font-size="11" text-anchor="middle" fill="#eef0f4" stroke="#eef0f4" stroke-width="0.3">X</text><text transform="translate(240.5 361.5) scale(0.88 1)" font-size="11" text-anchor="middle" fill="#eef0f4" stroke="#eef0f4" stroke-width="0.3">Y</text></g></svg>
</body></html>
